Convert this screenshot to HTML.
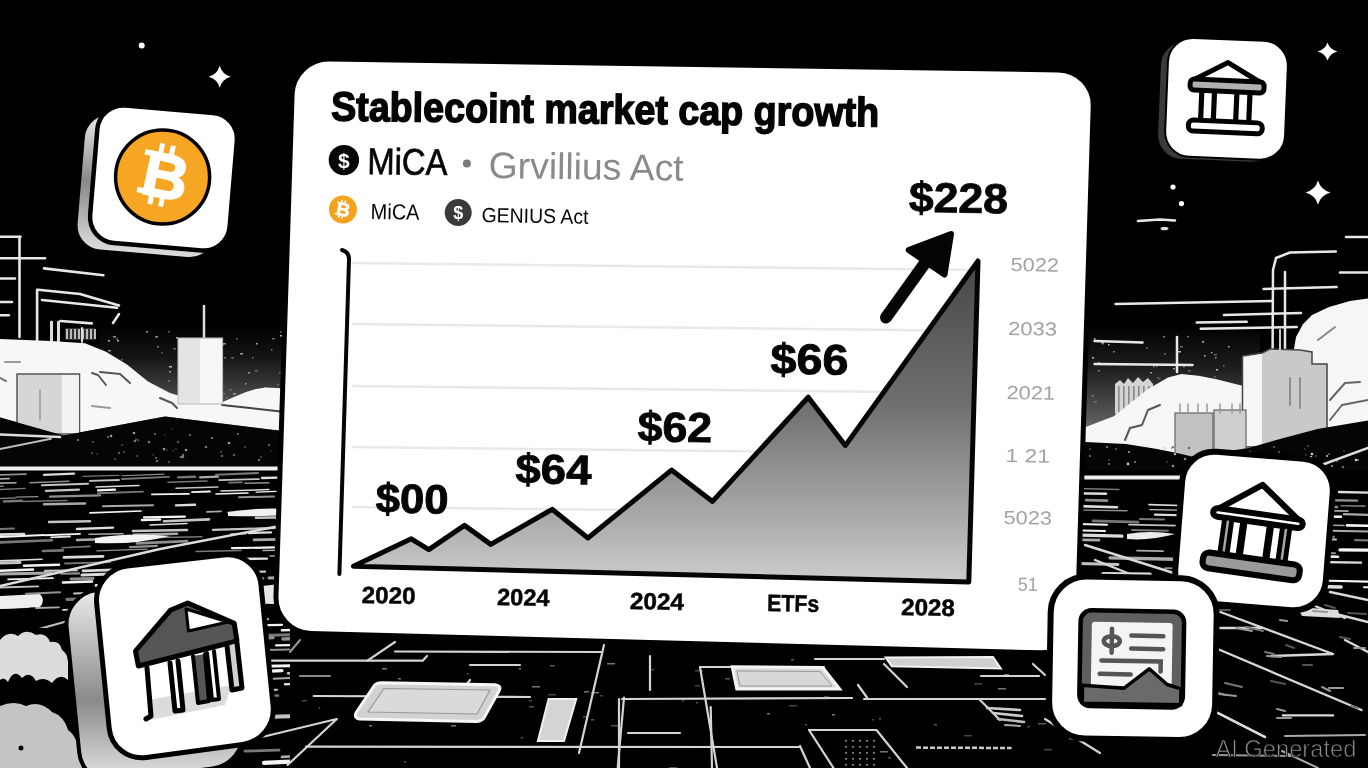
<!DOCTYPE html>
<html><head><meta charset="utf-8"><title>Stablecoin market cap growth</title>
<style>
html,body{margin:0;padding:0;background:#000;width:1368px;height:768px;overflow:hidden}
svg{display:block}
text{font-family:"Liberation Sans",Arial,sans-serif}
</style></head><body>
<svg width="1368" height="768" viewBox="0 0 1368 768">
<defs>
<linearGradient id="area" x1="0" y1="262" x2="0" y2="582" gradientUnits="userSpaceOnUse">
<stop offset="0" stop-color="#474747"/><stop offset="0.45" stop-color="#707070"/><stop offset="0.75" stop-color="#a2a2a2"/><stop offset="1" stop-color="#cdcdcd"/>
</linearGradient>
<linearGradient id="btcside" x1="0" y1="0" x2="0" y2="1">
<stop offset="0" stop-color="#eee"/><stop offset="0.5" stop-color="#888"/><stop offset="1" stop-color="#ddd"/>
</linearGradient>
<linearGradient id="bankside" x1="0" y1="0" x2="0" y2="1">
<stop offset="0" stop-color="#f4f4f4"/><stop offset="0.6" stop-color="#8a8a8a"/><stop offset="1" stop-color="#e6e6e6"/>
</linearGradient>
<clipPath id="clipLG"><rect x="0" y="471" width="290" height="297"/></clipPath>
<clipPath id="clipRG"><rect x="1070" y="468" width="298" height="300"/></clipPath>
<linearGradient id="skyR" x1="0" y1="0" x2="0" y2="1"><stop offset="0" stop-color="#000"/><stop offset="0.35" stop-color="#1e1e1e"/><stop offset="0.75" stop-color="#5a5a5a"/><stop offset="1" stop-color="#8a8a8a"/></linearGradient>
<linearGradient id="skyL" x1="0" y1="0" x2="0" y2="1"><stop offset="0" stop-color="#000"/><stop offset="0.3" stop-color="#141414"/><stop offset="0.7" stop-color="#4a4a4a"/><stop offset="1" stop-color="#7a7a7a"/></linearGradient>
</defs>
<rect width="1368" height="768" fill="#000"/>
<circle cx="141.7" cy="45.6" r="3" fill="#fff"/>
<path d="M219.7,65.8 Q222.11999999999998,74.38 230.7,76.8 Q222.11999999999998,79.22 219.7,87.8 Q217.28,79.22 208.7,76.8 Q217.28,74.38 219.7,65.8 Z" fill="#fff"/>
<path d="M1327.5,42.6 Q1329.7,49.620000000000005 1337.5,51.6 Q1329.7,53.58 1327.5,60.6 Q1325.3,53.58 1317.5,51.6 Q1325.3,49.620000000000005 1327.5,42.6 Z" fill="#fff"/>
<path d="M1318,180.6 Q1320.75,189.96 1330.5,192.6 Q1320.75,195.23999999999998 1318,204.6 Q1315.25,195.23999999999998 1305.5,192.6 Q1315.25,189.96 1318,180.6 Z" fill="#fff"/>
<circle cx="1173" cy="187" r="2.6" fill="#fff"/><circle cx="1181.5" cy="203.6" r="2.6" fill="#fff"/>
<path d="M1138,221 L1160,219.5 L1175,220.5" fill="none" stroke="#e8e8e8" stroke-width="2.5" stroke-linecap="round" stroke-linejoin="round"/>
<ellipse cx="1164.5" cy="228.5" rx="4" ry="1.8" fill="#ddd"/>
<path d="M100,325 L290,325 L290,430 L100,430 Z" fill="url(#skyL)"/>
<rect x="181" y="369" width="2" height="1.5" fill="#666"/>
<rect x="191" y="371" width="1.5" height="1.5" fill="#666"/>
<rect x="213" y="386" width="1.5" height="1.5" fill="#666"/>
<rect x="155" y="336" width="3" height="1.5" fill="#777"/>
<rect x="207" y="358" width="2" height="1.5" fill="#999"/>
<rect x="212" y="388" width="1.5" height="1.5" fill="#777"/>
<rect x="106" y="392" width="3" height="1.5" fill="#777"/>
<rect x="240" y="353" width="3" height="1.5" fill="#999"/>
<rect x="193" y="375" width="2" height="1.5" fill="#777"/>
<rect x="219" y="362" width="2" height="1.5" fill="#666"/>
<rect x="280" y="400" width="1.5" height="1.5" fill="#bbb"/>
<rect x="157" y="346" width="2" height="1.5" fill="#777"/>
<rect x="113" y="384" width="2" height="1.5" fill="#777"/>
<rect x="252" y="357" width="1.5" height="1.5" fill="#777"/>
<rect x="138" y="395" width="1.5" height="1.5" fill="#666"/>
<rect x="168" y="380" width="2" height="1.5" fill="#777"/>
<rect x="202" y="344" width="3" height="1.5" fill="#bbb"/>
<rect x="161" y="352" width="1.5" height="1.5" fill="#666"/>
<rect x="236" y="338" width="1.5" height="1.5" fill="#777"/>
<rect x="102" y="363" width="2" height="1.5" fill="#999"/>
<rect x="223" y="343" width="3" height="1.5" fill="#999"/>
<rect x="277" y="384" width="2" height="1.5" fill="#666"/>
<rect x="121" y="359" width="1.5" height="1.5" fill="#777"/>
<rect x="149" y="398" width="3" height="1.5" fill="#bbb"/>
<rect x="280" y="331" width="1.5" height="1.5" fill="#666"/>
<rect x="279" y="372" width="3" height="1.5" fill="#777"/>
<rect x="108" y="340" width="2" height="1.5" fill="#bbb"/>
<rect x="102" y="373" width="2" height="1.5" fill="#666"/>
<rect x="113" y="336" width="3" height="1.5" fill="#999"/>
<rect x="103" y="356" width="3" height="1.5" fill="#666"/>
<rect x="123" y="371" width="3" height="1.5" fill="#999"/>
<rect x="256" y="343" width="1.5" height="1.5" fill="#bbb"/>
<rect x="264" y="387" width="1.5" height="1.5" fill="#999"/>
<rect x="129" y="374" width="3" height="1.5" fill="#999"/>
<rect x="224" y="357" width="2" height="1.5" fill="#777"/>
<rect x="176" y="337" width="1.5" height="1.5" fill="#bbb"/>
<rect x="143" y="379" width="2" height="1.5" fill="#666"/>
<rect x="248" y="372" width="2" height="1.5" fill="#999"/>
<rect x="267" y="398" width="1.5" height="1.5" fill="#999"/>
<rect x="186" y="376" width="3" height="1.5" fill="#777"/>
<rect x="150" y="394" width="1.5" height="1.5" fill="#777"/>
<rect x="112" y="359" width="1.5" height="1.5" fill="#777"/>
<rect x="108" y="350" width="3" height="1.5" fill="#999"/>
<rect x="117" y="340" width="2" height="1.5" fill="#bbb"/>
<rect x="218" y="378" width="3" height="1.5" fill="#999"/>
<rect x="206" y="395" width="2" height="1.5" fill="#bbb"/>
<rect x="226" y="397" width="1.5" height="1.5" fill="#777"/>
<rect x="187" y="381" width="2" height="1.5" fill="#999"/>
<rect x="280" y="335" width="3" height="1.5" fill="#bbb"/>
<rect x="233" y="393" width="3" height="1.5" fill="#999"/>
<rect x="243" y="394" width="2" height="1.5" fill="#777"/>
<rect x="223" y="393" width="2" height="1.5" fill="#777"/>
<rect x="255" y="370" width="3" height="1.5" fill="#666"/>
<rect x="168" y="331" width="1.5" height="1.5" fill="#777"/>
<rect x="116" y="338" width="2" height="1.5" fill="#666"/>
<rect x="231" y="357" width="3" height="1.5" fill="#666"/>
<rect x="179" y="389" width="1.5" height="1.5" fill="#777"/>
<rect x="156" y="336" width="1.5" height="1.5" fill="#999"/>
<rect x="272" y="338" width="3" height="1.5" fill="#666"/>
<rect x="146" y="331" width="2" height="1.5" fill="#999"/>
<rect x="222" y="344" width="1.5" height="1.5" fill="#bbb"/>
<rect x="219" y="361" width="1.5" height="1.5" fill="#bbb"/>
<rect x="173" y="348" width="3" height="1.5" fill="#666"/>
<rect x="245" y="383" width="1.5" height="1.5" fill="#999"/>
<rect x="169" y="371" width="2" height="1.5" fill="#999"/>
<rect x="125" y="365" width="1.5" height="1.5" fill="#777"/>
<rect x="271" y="349" width="1.5" height="1.5" fill="#777"/>
<rect x="181" y="349" width="1.5" height="1.5" fill="#666"/>
<rect x="169" y="366" width="3" height="1.5" fill="#bbb"/>
<rect x="229" y="389" width="3" height="1.5" fill="#666"/>
<path d="M0,236.7 L20.5,236.7" fill="none" stroke="#e8e8e8" stroke-width="2.6" stroke-linecap="round" stroke-linejoin="round"/>
<path d="M19.5,236.7 L19.5,337" fill="none" stroke="#e8e8e8" stroke-width="2.6" stroke-linecap="round" stroke-linejoin="round"/>
<path d="M0,258.2 L45,258.2" fill="none" stroke="#e8e8e8" stroke-width="2.6" stroke-linecap="round" stroke-linejoin="round"/>
<path d="M44,268.4 L103.5,275.2" fill="none" stroke="#e8e8e8" stroke-width="2.6" stroke-linecap="round" stroke-linejoin="round"/>
<path d="M0,278.5 L15,278.5" fill="none" stroke="#e8e8e8" stroke-width="2.6" stroke-linecap="round" stroke-linejoin="round"/>
<path d="M37.1,289.8 L37.1,341" fill="none" stroke="#e8e8e8" stroke-width="2.6" stroke-linecap="round" stroke-linejoin="round"/>
<path d="M38,289.8 L80,294 L119,305.5" fill="none" stroke="#e8e8e8" stroke-width="2.6" stroke-linecap="round" stroke-linejoin="round"/>
<path d="M42,300 L117,307.8" fill="none" stroke="#e8e8e8" stroke-width="2.6" stroke-linecap="round" stroke-linejoin="round"/>
<path d="M0,302 L12,302" fill="none" stroke="#e8e8e8" stroke-width="2.6" stroke-linecap="round" stroke-linejoin="round"/>
<path d="M0,315.2 L8.8,315.2" fill="none" stroke="#e8e8e8" stroke-width="2.6" stroke-linecap="round" stroke-linejoin="round"/>
<path d="M60.5,321 L91.8,323.4" fill="none" stroke="#e8e8e8" stroke-width="2.6" stroke-linecap="round" stroke-linejoin="round"/>
<path d="M113,323 L119,314" fill="none" stroke="#e8e8e8" stroke-width="2.6" stroke-linecap="round" stroke-linejoin="round"/>
<g fill="#ccc"><rect x="65" y="328" width="30" height="12" fill="#333"/></g>
<rect x="66" y="329" width="2" height="10" fill="#bbb"/>
<rect x="70" y="329" width="2" height="10" fill="#bbb"/>
<rect x="74" y="329" width="2" height="10" fill="#bbb"/>
<rect x="78" y="329" width="2" height="10" fill="#bbb"/>
<rect x="82" y="329" width="2" height="10" fill="#bbb"/>
<rect x="86" y="329" width="2" height="10" fill="#bbb"/>
<rect x="90" y="329" width="2" height="10" fill="#bbb"/>
<rect x="94" y="329" width="2" height="10" fill="#bbb"/>
<path d="M51.5,322 L51.5,372" fill="none" stroke="#ddd" stroke-width="3" stroke-linecap="round" stroke-linejoin="round"/><path d="M58.5,322 L58.5,372" fill="none" stroke="#ddd" stroke-width="3" stroke-linecap="round" stroke-linejoin="round"/><path d="M82,328 L82,342" fill="none" stroke="#ddd" stroke-width="2" stroke-linecap="round" stroke-linejoin="round"/>
<path d="M0.0,339.0 L51.0,341.0 L85.0,343.3 L106.0,351.8 L127.0,364.5 L148.0,381.5 L170.0,393.0 L180.0,396.0 L222.6,402.0 L234.0,397.0 L246.0,392.0 L256.0,389.0 L266.0,387.5 L277.0,388.0 L290.0,389.0 L290.0,432.0 L165.0,416.5 L63.6,435.5 L0.0,417.5 Z" fill="#f7f7f7" />
<path d="M92,373 L98,375 L106,385" fill="none" stroke="#555" stroke-width="2" stroke-linecap="round" stroke-linejoin="round"/><path d="M100,372 L120,374 L130,383" fill="none" stroke="#555" stroke-width="2" stroke-linecap="round" stroke-linejoin="round"/><path d="M160,398 L172,403 L177,408" fill="none" stroke="#555" stroke-width="2" stroke-linecap="round" stroke-linejoin="round"/><path d="M222,405 L250,408 L285,412" fill="none" stroke="#444" stroke-width="2" stroke-linecap="round" stroke-linejoin="round"/><path d="M0,378 L6,381" fill="none" stroke="#777" stroke-width="2" stroke-linecap="round" stroke-linejoin="round"/><path d="M5,362 L20,362" fill="none" stroke="#999" stroke-width="2" stroke-linecap="round" stroke-linejoin="round"/><path d="M92,406 L110,408" fill="none" stroke="#999" stroke-width="2" stroke-linecap="round" stroke-linejoin="round"/>
<rect x="17" y="374" width="62.5" height="60" fill="#d6d6d6" stroke="#555" stroke-width="1.5"/>
<rect x="62" y="375" width="17" height="58" fill="#f2f2f2"/>
<path d="M40,390 L40,420" fill="none" stroke="#999" stroke-width="1.5" stroke-linecap="round" stroke-linejoin="round"/>
<path d="M204,306 L204,338" fill="none" stroke="#ddd" stroke-width="2.5" stroke-linecap="round" stroke-linejoin="round"/>
<rect x="178" y="338" width="44.6" height="66" fill="#e4e4e4" stroke="#bbb" stroke-width="1"/>
<rect x="200" y="339" width="22" height="64" fill="#f6f6f6"/>
<path d="M0.0,417.5 L63.6,435.5 L165.0,416.5 L290.0,432.0 L290.0,470.0 L0.0,470.0 Z" fill="#050505" />
<path d="M0,434.5 L60,437" fill="none" stroke="#ddd" stroke-width="2.5" stroke-linecap="round" stroke-linejoin="round"/><path d="M0,449 L51,438.7" fill="none" stroke="#bbb" stroke-width="2" stroke-linecap="round" stroke-linejoin="round"/>
<circle cx="137" cy="456" r="1" fill="#555"/>
<circle cx="212" cy="438" r="1" fill="#999"/>
<circle cx="206" cy="447" r="1.3" fill="#777"/>
<circle cx="155" cy="434" r="1" fill="#777"/>
<circle cx="234" cy="455" r="1.3" fill="#555"/>
<circle cx="164" cy="449" r="1.3" fill="#999"/>
<circle cx="271" cy="451" r="0.8" fill="#444"/>
<circle cx="124" cy="452" r="1" fill="#555"/>
<circle cx="108" cy="437" r="1" fill="#777"/>
<circle cx="153" cy="455" r="0.8" fill="#555"/>
<circle cx="156" cy="458" r="1" fill="#777"/>
<circle cx="165" cy="435" r="0.8" fill="#444"/>
<circle cx="186" cy="450" r="1.3" fill="#999"/>
<circle cx="167" cy="450" r="0.8" fill="#555"/>
<circle cx="222" cy="456" r="1.3" fill="#555"/>
<circle cx="115" cy="459" r="0.8" fill="#999"/>
<circle cx="183" cy="455" r="1" fill="#999"/>
<circle cx="261" cy="457" r="1" fill="#555"/>
<circle cx="78" cy="440" r="1" fill="#999"/>
<circle cx="172" cy="429" r="0.8" fill="#444"/>
<circle cx="238" cy="434" r="1" fill="#777"/>
<circle cx="169" cy="462" r="1.3" fill="#444"/>
<circle cx="269" cy="445" r="1.3" fill="#555"/>
<circle cx="229" cy="443" r="1.3" fill="#999"/>
<circle cx="245" cy="447" r="0.8" fill="#999"/>
<circle cx="135" cy="441" r="1.3" fill="#777"/>
<circle cx="134" cy="433" r="1.3" fill="#999"/>
<circle cx="190" cy="435" r="1.3" fill="#555"/>
<circle cx="176" cy="449" r="0.8" fill="#555"/>
<circle cx="178" cy="442" r="1.3" fill="#555"/>
<circle cx="173" cy="451" r="0.8" fill="#444"/>
<circle cx="157" cy="461" r="1" fill="#999"/>
<circle cx="122" cy="445" r="1" fill="#444"/>
<circle cx="259" cy="460" r="1" fill="#999"/>
<circle cx="93" cy="442" r="0.8" fill="#999"/>
<circle cx="97" cy="454" r="0.8" fill="#555"/>
<circle cx="111" cy="436" r="1.3" fill="#999"/>
<circle cx="138" cy="440" r="1.3" fill="#444"/>
<circle cx="92" cy="453" r="0.8" fill="#999"/>
<circle cx="221" cy="452" r="1" fill="#555"/>
<circle cx="149" cy="442" r="1.3" fill="#777"/>
<circle cx="183" cy="457" r="1.3" fill="#777"/>
<circle cx="181" cy="457" r="1.3" fill="#777"/>
<circle cx="119" cy="453" r="1" fill="#777"/>
<circle cx="136" cy="439" r="0.8" fill="#777"/>
<rect x="0" y="466.5" width="290" height="4" fill="#f0f0f0"/>
<g clip-path="url(#clipLG)">
<path d="M-7,475.2 l33,-1.1" stroke="#909090" stroke-width="1.7" stroke-linecap="round"/>
<path d="M44,474.9 l30,-1.2" stroke="#dcdcdc" stroke-width="2.3" stroke-linecap="round"/>
<path d="M83,476.3 l36,-1.0" stroke="#777" stroke-width="1.3" stroke-linecap="round"/>
<path d="M122,475.8 l42,-1.7" stroke="#909090" stroke-width="1.1" stroke-linecap="round"/>
<path d="M216,474.8 l42,-1.8" stroke="#777" stroke-width="2.1" stroke-linecap="round"/>
<path d="M280,475.5 l16,-0.6" stroke="#dcdcdc" stroke-width="1.4" stroke-linecap="round"/>
<path d="M-25,479.8 l34,-1.2" stroke="#aaa" stroke-width="1.8" stroke-linecap="round"/>
<path d="M122,479.0 l47,-2.1" stroke="#777" stroke-width="1.9" stroke-linecap="round"/>
<path d="M178,477.4 l17,-0.7" stroke="#777" stroke-width="2.4" stroke-linecap="round"/>
<path d="M200,477.3 l18,-0.6" stroke="#aaa" stroke-width="2.2" stroke-linecap="round"/>
<path d="M219,480.1 l40,-1.0" stroke="#c4c4c4" stroke-width="1.7" stroke-linecap="round"/>
<path d="M262,478.0 l35,-0.8" stroke="#dcdcdc" stroke-width="2.3" stroke-linecap="round"/>
<path d="M-10,483.4 l26,-0.7" stroke="#aaa" stroke-width="1.6" stroke-linecap="round"/>
<path d="M30,482.7 l39,-1.4" stroke="#909090" stroke-width="1.5" stroke-linecap="round"/>
<path d="M90,480.8 l29,-0.8" stroke="#c4c4c4" stroke-width="1.8" stroke-linecap="round"/>
<path d="M168,482.3 l39,-1.3" stroke="#777" stroke-width="1.5" stroke-linecap="round"/>
<path d="M229,482.6 l13,-0.3" stroke="#777" stroke-width="1.7" stroke-linecap="round"/>
<path d="M245,483.2 l24,-0.4" stroke="#909090" stroke-width="1.5" stroke-linecap="round"/>
<path d="M-20,486.6 l23,-0.4" stroke="#777" stroke-width="1.7" stroke-linecap="round"/>
<path d="M42,485.2 l46,-1.5" stroke="#c4c4c4" stroke-width="2.1" stroke-linecap="round"/>
<path d="M96,487.0 l43,-1.4" stroke="#dcdcdc" stroke-width="1.5" stroke-linecap="round"/>
<path d="M280,487.3 l37,-0.7" stroke="#909090" stroke-width="1.7" stroke-linecap="round"/>
<path d="M-26,490.5 l51,-2.1" stroke="#777" stroke-width="1.4" stroke-linecap="round"/>
<path d="M46,490.9 l33,-1.3" stroke="#c4c4c4" stroke-width="2.3" stroke-linecap="round"/>
<path d="M98,490.4 l17,-0.7" stroke="#f4f4f4" stroke-width="2.3" stroke-linecap="round"/>
<path d="M176,488.3 l42,-1.3" stroke="#c4c4c4" stroke-width="1.5" stroke-linecap="round"/>
<path d="M221,490.9 l48,-1.4" stroke="#dcdcdc" stroke-width="1.5" stroke-linecap="round"/>
<path d="M98,493.3 l45,-1.7" stroke="#777" stroke-width="1.9" stroke-linecap="round"/>
<path d="M152,494.4 l37,-0.6" stroke="#f4f4f4" stroke-width="1.8" stroke-linecap="round"/>
<path d="M192,492.2 l18,-0.7" stroke="#f4f4f4" stroke-width="1.8" stroke-linecap="round"/>
<path d="M216,494.0 l32,-1.0" stroke="#f4f4f4" stroke-width="1.6" stroke-linecap="round"/>
<path d="M256,492.1 l20,-0.7" stroke="#f4f4f4" stroke-width="1.3" stroke-linecap="round"/>
<path d="M286,494.4 l35,-0.9" stroke="#aaa" stroke-width="2.0" stroke-linecap="round"/>
<path d="M-13,498.8 l28,-0.8" stroke="#777" stroke-width="1.6" stroke-linecap="round"/>
<path d="M16,497.2 l22,-0.6" stroke="#909090" stroke-width="1.3" stroke-linecap="round"/>
<path d="M50,496.7 l50,-1.4" stroke="#909090" stroke-width="2.2" stroke-linecap="round"/>
<path d="M239,497.3 l35,-0.8" stroke="#909090" stroke-width="2.1" stroke-linecap="round"/>
<path d="M4,501.5 l18,-0.7" stroke="#777" stroke-width="2.5" stroke-linecap="round"/>
<path d="M23,501.4 l44,-0.8" stroke="#777" stroke-width="1.5" stroke-linecap="round"/>
<path d="M44,504.2 l41,-0.7" stroke="#aaa" stroke-width="2.4" stroke-linecap="round"/>
<path d="M103,506.3 l50,-1.0" stroke="#aaa" stroke-width="2.0" stroke-linecap="round"/>
<path d="M176,505.4 l19,-0.7" stroke="#dcdcdc" stroke-width="2.4" stroke-linecap="round"/>
<path d="M90,512.9 l51,-1.9" stroke="#f4f4f4" stroke-width="1.7" stroke-linecap="round"/>
<path d="M207,511.9 l14,-0.5" stroke="#aaa" stroke-width="1.7" stroke-linecap="round"/>
<path d="M228,512.5 l34,-1.2" stroke="#c4c4c4" stroke-width="1.4" stroke-linecap="round"/>
<path d="M144,517.3 l41,-0.7" stroke="#f4f4f4" stroke-width="2.2" stroke-linecap="round"/>
<path d="M256,517.8 l44,-0.8" stroke="#c4c4c4" stroke-width="2.5" stroke-linecap="round"/>
<path d="M49,522.0 l41,-0.7" stroke="#c4c4c4" stroke-width="2.4" stroke-linecap="round"/>
<path d="M142,520.0 l18,-0.5" stroke="#f4f4f4" stroke-width="2.5" stroke-linecap="round"/>
<path d="M164,521.2 l45,-1.8" stroke="#c4c4c4" stroke-width="2.6" stroke-linecap="round"/>
<path d="M150,524.9 l37,-1.4" stroke="#dcdcdc" stroke-width="1.5" stroke-linecap="round"/>
<path d="M-29,530.1 l43,-1.6" stroke="#777" stroke-width="2.0" stroke-linecap="round"/>
<path d="M77,529.0 l36,-1.4" stroke="#dcdcdc" stroke-width="2.4" stroke-linecap="round"/>
<path d="M133,531.0 l54,-1.0" stroke="#c4c4c4" stroke-width="2.7" stroke-linecap="round"/>
<path d="M213,529.9 l40,-1.2" stroke="#c4c4c4" stroke-width="2.2" stroke-linecap="round"/>
<path d="M255,528.7 l29,-1.2" stroke="#c4c4c4" stroke-width="2.3" stroke-linecap="round"/>
<path d="M-21,535.3 l45,-1.3" stroke="#dcdcdc" stroke-width="2.7" stroke-linecap="round"/>
<path d="M45,535.2 l35,-1.3" stroke="#f4f4f4" stroke-width="1.9" stroke-linecap="round"/>
<path d="M89,534.2 l34,-0.5" stroke="#aaa" stroke-width="1.6" stroke-linecap="round"/>
<path d="M134,534.9 l43,-1.1" stroke="#aaa" stroke-width="2.6" stroke-linecap="round"/>
<path d="M231,534.1 l15,-0.3" stroke="#c4c4c4" stroke-width="1.5" stroke-linecap="round"/>
<path d="M249,533.1 l22,-0.7" stroke="#dcdcdc" stroke-width="2.2" stroke-linecap="round"/>
<path d="M-1,537.0 l45,-2.0" stroke="#f4f4f4" stroke-width="1.9" stroke-linecap="round"/>
<path d="M51,537.3 l19,-0.8" stroke="#dcdcdc" stroke-width="1.8" stroke-linecap="round"/>
<path d="M77,539.9 l49,-1.4" stroke="#aaa" stroke-width="2.5" stroke-linecap="round"/>
<path d="M143,537.1 l16,-0.5" stroke="#c4c4c4" stroke-width="1.8" stroke-linecap="round"/>
<path d="M161,537.5 l41,-0.7" stroke="#777" stroke-width="1.4" stroke-linecap="round"/>
<path d="M254,539.8 l56,-0.9" stroke="#aaa" stroke-width="2.7" stroke-linecap="round"/>
<path d="M-28,542.5 l19,-0.5" stroke="#aaa" stroke-width="1.5" stroke-linecap="round"/>
<path d="M-2,542.5 l54,-2.3" stroke="#777" stroke-width="2.6" stroke-linecap="round"/>
<path d="M137,543.4 l50,-2.2" stroke="#909090" stroke-width="2.7" stroke-linecap="round"/>
<path d="M-18,548.6 l17,-0.3" stroke="#777" stroke-width="2.3" stroke-linecap="round"/>
<path d="M62,547.7 l28,-1.3" stroke="#777" stroke-width="1.6" stroke-linecap="round"/>
<path d="M130,547.1 l27,-1.2" stroke="#909090" stroke-width="2.1" stroke-linecap="round"/>
<path d="M232,548.2 l42,-0.8" stroke="#f4f4f4" stroke-width="2.2" stroke-linecap="round"/>
<path d="M43,551.0 l20,-0.7" stroke="#777" stroke-width="2.7" stroke-linecap="round"/>
<path d="M97,550.9 l50,-1.7" stroke="#909090" stroke-width="1.3" stroke-linecap="round"/>
<path d="M196,551.5 l45,-1.0" stroke="#777" stroke-width="1.4" stroke-linecap="round"/>
<path d="M263,550.6 l18,-0.4" stroke="#aaa" stroke-width="1.5" stroke-linecap="round"/>
<path d="M64,557.4 l39,-1.1" stroke="#dcdcdc" stroke-width="2.8" stroke-linecap="round"/>
<path d="M270,556.0 l48,-1.0" stroke="#aaa" stroke-width="1.4" stroke-linecap="round"/>
<path d="M-13,561.3 l55,-2.0" stroke="#dcdcdc" stroke-width="1.6" stroke-linecap="round"/>
<path d="M147,562.0 l23,-0.5" stroke="#aaa" stroke-width="2.1" stroke-linecap="round"/>
<path d="M183,561.4 l28,-0.7" stroke="#c4c4c4" stroke-width="2.8" stroke-linecap="round"/>
<path d="M216,559.4 l51,-0.8" stroke="#dcdcdc" stroke-width="2.4" stroke-linecap="round"/>
<path d="M-30,563.5 l50,-1.0" stroke="#c4c4c4" stroke-width="3.0" stroke-linecap="round"/>
<path d="M24,565.8 l35,-1.0" stroke="#f4f4f4" stroke-width="2.4" stroke-linecap="round"/>
<path d="M65,563.5 l45,-1.3" stroke="#777" stroke-width="1.8" stroke-linecap="round"/>
<path d="M196,565.9 l27,-0.8" stroke="#aaa" stroke-width="2.2" stroke-linecap="round"/>
<path d="M228,565.8 l23,-0.7" stroke="#777" stroke-width="1.5" stroke-linecap="round"/>
<path d="M-11,571.0 l44,-1.4" stroke="#f4f4f4" stroke-width="2.5" stroke-linecap="round"/>
<path d="M45,570.9 l32,-0.6" stroke="#c4c4c4" stroke-width="2.1" stroke-linecap="round"/>
<path d="M83,570.9 l39,-1.3" stroke="#dcdcdc" stroke-width="2.7" stroke-linecap="round"/>
<path d="M-6,574.0 l57,-0.9" stroke="#aaa" stroke-width="3.0" stroke-linecap="round"/>
<path d="M61,573.7 l18,-0.3" stroke="#909090" stroke-width="2.1" stroke-linecap="round"/>
<path d="M82,575.1 l59,-2.1" stroke="#dcdcdc" stroke-width="3.0" stroke-linecap="round"/>
<path d="M148,575.8 l44,-1.6" stroke="#f4f4f4" stroke-width="3.0" stroke-linecap="round"/>
<path d="M205,573.0 l60,-1.3" stroke="#c4c4c4" stroke-width="2.3" stroke-linecap="round"/>
<path d="M8,579.3 l45,-1.1" stroke="#f4f4f4" stroke-width="1.7" stroke-linecap="round"/>
<path d="M71,579.0 l22,-0.6" stroke="#909090" stroke-width="3.0" stroke-linecap="round"/>
<path d="M137,580.3 l22,-0.7" stroke="#dcdcdc" stroke-width="2.1" stroke-linecap="round"/>
<path d="M172,578.2 l17,-0.4" stroke="#dcdcdc" stroke-width="3.1" stroke-linecap="round"/>
<path d="M245,578.8 l18,-0.5" stroke="#777" stroke-width="2.8" stroke-linecap="round"/>
<path d="M269,578.0 l30,-1.0" stroke="#aaa" stroke-width="2.8" stroke-linecap="round"/>
<path d="M63,582.6 l29,-1.0" stroke="#f4f4f4" stroke-width="2.5" stroke-linecap="round"/>
<path d="M96,585.4 l42,-1.5" stroke="#f4f4f4" stroke-width="2.8" stroke-linecap="round"/>
<path d="M152,583.4 l51,-1.7" stroke="#909090" stroke-width="2.4" stroke-linecap="round"/>
<path d="M-10,587.8 l48,-1.4" stroke="#c4c4c4" stroke-width="1.9" stroke-linecap="round"/>
<path d="M98,589.8 l60,-1.2" stroke="#aaa" stroke-width="2.0" stroke-linecap="round"/>
<path d="M275,590.4 l30,-0.8" stroke="#aaa" stroke-width="2.1" stroke-linecap="round"/>
<path d="M26,593.7 l34,-1.4" stroke="#909090" stroke-width="2.1" stroke-linecap="round"/>
<path d="M74,593.5 l22,-0.7" stroke="#c4c4c4" stroke-width="1.9" stroke-linecap="round"/>
<path d="M99,592.5 l21,-0.8" stroke="#c4c4c4" stroke-width="1.8" stroke-linecap="round"/>
<path d="M125,595.1 l37,-1.1" stroke="#777" stroke-width="2.9" stroke-linecap="round"/>
<path d="M289,593.9 l21,-0.9" stroke="#c4c4c4" stroke-width="2.1" stroke-linecap="round"/>
<path d="M67,599.3 l31,-0.5" stroke="#777" stroke-width="3.2" stroke-linecap="round"/>
<path d="M163,597.5 l18,-0.6" stroke="#aaa" stroke-width="2.6" stroke-linecap="round"/>
<path d="M188,598.4 l57,-1.0" stroke="#c4c4c4" stroke-width="1.8" stroke-linecap="round"/>
<path d="M-3,603.3 l28,-0.8" stroke="#909090" stroke-width="2.2" stroke-linecap="round"/>
<path d="M133,604.5 l41,-0.9" stroke="#909090" stroke-width="3.0" stroke-linecap="round"/>
<path d="M177,604.8 l37,-0.8" stroke="#dcdcdc" stroke-width="2.4" stroke-linecap="round"/>
<path d="M270,603.0 l56,-2.3" stroke="#f4f4f4" stroke-width="2.1" stroke-linecap="round"/>
<path d="M-7,608.3 l35,-1.2" stroke="#c4c4c4" stroke-width="2.0" stroke-linecap="round"/>
<path d="M36,608.0 l23,-0.7" stroke="#aaa" stroke-width="1.8" stroke-linecap="round"/>
<path d="M63,609.8 l55,-1.5" stroke="#dcdcdc" stroke-width="1.8" stroke-linecap="round"/>
<path d="M279,614.6 l28,-1.0" stroke="#909090" stroke-width="2.6" stroke-linecap="round"/>
<path d="M139,620.1 l38,-1.2" stroke="#dcdcdc" stroke-width="2.0" stroke-linecap="round"/>
<path d="M216,620.7 l52,-1.6" stroke="#aaa" stroke-width="2.4" stroke-linecap="round"/>
<path d="M97,624.5 l29,-0.8" stroke="#dcdcdc" stroke-width="3.3" stroke-linecap="round"/>
<path d="M132,625.9 l64,-2.2" stroke="#909090" stroke-width="3.0" stroke-linecap="round"/>
<path d="M208,623.4 l31,-1.1" stroke="#c4c4c4" stroke-width="3.2" stroke-linecap="round"/>
<path d="M253,625.4 l29,-0.6" stroke="#f4f4f4" stroke-width="2.2" stroke-linecap="round"/>
<path d="M93,631.0 l57,-1.1" stroke="#909090" stroke-width="2.1" stroke-linecap="round"/>
<path d="M153,631.1 l39,-1.6" stroke="#dcdcdc" stroke-width="2.5" stroke-linecap="round"/>
<path d="M210,631.1 l36,-0.9" stroke="#909090" stroke-width="2.6" stroke-linecap="round"/>
<path d="M282,630.3 l39,-1.3" stroke="#f4f4f4" stroke-width="2.6" stroke-linecap="round"/>
<path d="M-19,635.3 l61,-1.9" stroke="#f4f4f4" stroke-width="2.9" stroke-linecap="round"/>
<path d="M158,634.9 l51,-1.3" stroke="#f4f4f4" stroke-width="1.7" stroke-linecap="round"/>
<path d="M269,635.3 l57,-1.6" stroke="#777" stroke-width="3.0" stroke-linecap="round"/>
<path d="M-6,640.2 l27,-0.8" stroke="#aaa" stroke-width="2.2" stroke-linecap="round"/>
<path d="M31,639.2 l33,-0.9" stroke="#f4f4f4" stroke-width="2.7" stroke-linecap="round"/>
<path d="M138,639.4 l62,-1.0" stroke="#909090" stroke-width="2.4" stroke-linecap="round"/>
<path d="M230,638.9 l43,-1.3" stroke="#909090" stroke-width="3.4" stroke-linecap="round"/>
<path d="M283,638.9 l44,-1.3" stroke="#909090" stroke-width="3.5" stroke-linecap="round"/>
<path d="M-28,644.0 l39,-1.2" stroke="#aaa" stroke-width="2.8" stroke-linecap="round"/>
<path d="M24,645.2 l20,-0.5" stroke="#c4c4c4" stroke-width="2.2" stroke-linecap="round"/>
<path d="M77,644.1 l66,-2.5" stroke="#777" stroke-width="2.0" stroke-linecap="round"/>
<path d="M276,645.3 l66,-1.2" stroke="#f4f4f4" stroke-width="2.3" stroke-linecap="round"/>
<path d="M-23,650.7 l41,-1.4" stroke="#f4f4f4" stroke-width="2.3" stroke-linecap="round"/>
<path d="M37,651.5 l56,-2.4" stroke="#f4f4f4" stroke-width="2.9" stroke-linecap="round"/>
<path d="M110,652.3 l30,-0.5" stroke="#f4f4f4" stroke-width="2.9" stroke-linecap="round"/>
<path d="M148,650.8 l38,-0.9" stroke="#777" stroke-width="2.0" stroke-linecap="round"/>
<path d="M207,650.4 l47,-1.9" stroke="#aaa" stroke-width="3.2" stroke-linecap="round"/>
<path d="M267,650.0 l63,-1.3" stroke="#909090" stroke-width="2.1" stroke-linecap="round"/>
<path d="M61,655.5 l30,-0.5" stroke="#777" stroke-width="2.8" stroke-linecap="round"/>
<path d="M160,655.4 l60,-2.0" stroke="#909090" stroke-width="3.4" stroke-linecap="round"/>
<path d="M35,660.8 l36,-1.6" stroke="#f4f4f4" stroke-width="2.2" stroke-linecap="round"/>
<path d="M192,663.2 l64,-1.4" stroke="#c4c4c4" stroke-width="3.2" stroke-linecap="round"/>
<path d="M47,669.0 l38,-1.6" stroke="#c4c4c4" stroke-width="3.7" stroke-linecap="round"/>
<path d="M97,667.4 l26,-0.9" stroke="#f4f4f4" stroke-width="2.8" stroke-linecap="round"/>
<path d="M191,667.5 l38,-1.0" stroke="#aaa" stroke-width="3.5" stroke-linecap="round"/>
<path d="M244,666.6 l50,-1.0" stroke="#f4f4f4" stroke-width="2.9" stroke-linecap="round"/>
<path d="M58,674.5 l22,-0.6" stroke="#777" stroke-width="2.6" stroke-linecap="round"/>
<path d="M181,675.0 l39,-1.0" stroke="#c4c4c4" stroke-width="3.2" stroke-linecap="round"/>
<path d="M235,672.7 l47,-2.1" stroke="#f4f4f4" stroke-width="3.2" stroke-linecap="round"/>
<path d="M288,673.3 l64,-1.0" stroke="#c4c4c4" stroke-width="2.4" stroke-linecap="round"/>
<path d="M124,680.6 l45,-1.4" stroke="#aaa" stroke-width="3.1" stroke-linecap="round"/>
<path d="M174,678.3 l66,-1.1" stroke="#f4f4f4" stroke-width="2.2" stroke-linecap="round"/>
<path d="M255,679.5 l61,-2.6" stroke="#aaa" stroke-width="1.8" stroke-linecap="round"/>
<path d="M53,684.2 l22,-0.8" stroke="#909090" stroke-width="3.1" stroke-linecap="round"/>
<path d="M81,686.1 l57,-1.1" stroke="#909090" stroke-width="2.9" stroke-linecap="round"/>
<path d="M238,685.3 l33,-1.0" stroke="#c4c4c4" stroke-width="2.7" stroke-linecap="round"/>
<path d="M285,684.3 l37,-1.6" stroke="#dcdcdc" stroke-width="2.4" stroke-linecap="round"/>
<path d="M-12,692.1 l70,-1.1" stroke="#dcdcdc" stroke-width="3.7" stroke-linecap="round"/>
<path d="M90,692.2 l44,-1.5" stroke="#777" stroke-width="2.7" stroke-linecap="round"/>
<path d="M213,692.3 l64,-2.5" stroke="#c4c4c4" stroke-width="2.0" stroke-linecap="round"/>
<path d="M98,698.2 l68,-1.5" stroke="#dcdcdc" stroke-width="3.8" stroke-linecap="round"/>
<path d="M195,698.3 l28,-0.4" stroke="#dcdcdc" stroke-width="3.5" stroke-linecap="round"/>
<path d="M231,697.2 l47,-1.6" stroke="#777" stroke-width="2.5" stroke-linecap="round"/>
<path d="M-26,702.6 l49,-2.0" stroke="#f4f4f4" stroke-width="2.3" stroke-linecap="round"/>
<path d="M27,702.8 l64,-2.6" stroke="#aaa" stroke-width="2.2" stroke-linecap="round"/>
<path d="M194,703.5 l73,-2.8" stroke="#c4c4c4" stroke-width="3.0" stroke-linecap="round"/>
<path d="M-14,710.5 l43,-1.9" stroke="#777" stroke-width="3.4" stroke-linecap="round"/>
<path d="M38,711.0 l38,-1.0" stroke="#dcdcdc" stroke-width="3.9" stroke-linecap="round"/>
<path d="M189,709.9 l71,-1.1" stroke="#777" stroke-width="2.6" stroke-linecap="round"/>
<path d="M-11,718.1 l59,-0.9" stroke="#dcdcdc" stroke-width="2.4" stroke-linecap="round"/>
<path d="M71,718.4 l48,-1.8" stroke="#909090" stroke-width="3.8" stroke-linecap="round"/>
<path d="M237,717.7 l62,-1.7" stroke="#c4c4c4" stroke-width="4.0" stroke-linecap="round"/>
<path d="M88,723.2 l42,-1.3" stroke="#777" stroke-width="3.4" stroke-linecap="round"/>
<path d="M-17,737.8 l69,-1.7" stroke="#909090" stroke-width="3.2" stroke-linecap="round"/>
<path d="M69,736.4 l63,-2.4" stroke="#dcdcdc" stroke-width="3.8" stroke-linecap="round"/>
<path d="M148,737.3 l51,-0.9" stroke="#909090" stroke-width="3.7" stroke-linecap="round"/>
<path d="M-9,742.0 l68,-3.0" stroke="#909090" stroke-width="2.9" stroke-linecap="round"/>
<path d="M-30,750.4 l77,-1.4" stroke="#dcdcdc" stroke-width="3.4" stroke-linecap="round"/>
<path d="M66,749.8 l53,-2.2" stroke="#aaa" stroke-width="4.2" stroke-linecap="round"/>
<path d="M190,750.6 l36,-1.3" stroke="#777" stroke-width="2.1" stroke-linecap="round"/>
<path d="M245,751.1 l34,-1.0" stroke="#777" stroke-width="2.8" stroke-linecap="round"/>
<path d="M106,757.6 l44,-1.2" stroke="#dcdcdc" stroke-width="2.4" stroke-linecap="round"/>
<path d="M171,757.4 l37,-1.5" stroke="#dcdcdc" stroke-width="4.0" stroke-linecap="round"/>
<path d="M282,756.9 l29,-1.2" stroke="#aaa" stroke-width="2.6" stroke-linecap="round"/>
<path d="M264,762.8 l72,-3.2" stroke="#f4f4f4" stroke-width="4.2" stroke-linecap="round"/>
<path d="M95,538 Q130,532 170,536 Q135,545 95,543 Z" fill="#f4f4f4"/>
<path d="M228,512 Q260,507 290,509 L290,515 Q255,517 228,516 Z" fill="#f0f0f0"/>
<path d="M0,676 Q30,670 48,673 Q30,682 0,684 Z" fill="#e8e8e8"/>
<path d="M0,596 L40,594 Q46,600 40,607 L0,609 Z" fill="#eee"/>
<path d="M262,586 L280,584 L280,603 L264,604 Z" fill="#e6e6e6"/>
<path d="M0,586 L160,549 L290,524" fill="none" stroke="#ddd" stroke-width="2.5" stroke-linecap="round" stroke-linejoin="round"/><path d="M0,640 L100,612 L230,578" fill="none" stroke="#bbb" stroke-width="2.2" stroke-linecap="round" stroke-linejoin="round"/>
</g>
<path d="M1083,325 L1260,325 L1260,450 L1083,450 Z" fill="url(#skyR)"/>
<rect x="1211" y="352" width="1.5" height="1.5" fill="#999"/>
<rect x="1228" y="346" width="1.5" height="1.5" fill="#bbb"/>
<rect x="1150" y="372" width="2" height="1.5" fill="#999"/>
<rect x="1121" y="388" width="1.5" height="1.5" fill="#777"/>
<rect x="1121" y="393" width="2" height="1.5" fill="#777"/>
<rect x="1199" y="389" width="2" height="1.5" fill="#999"/>
<rect x="1214" y="376" width="1.5" height="1.5" fill="#777"/>
<rect x="1208" y="387" width="3" height="1.5" fill="#666"/>
<rect x="1113" y="351" width="1.5" height="1.5" fill="#999"/>
<rect x="1220" y="419" width="3" height="1.5" fill="#777"/>
<rect x="1180" y="346" width="3" height="1.5" fill="#666"/>
<rect x="1102" y="343" width="2" height="1.5" fill="#666"/>
<rect x="1156" y="365" width="1.5" height="1.5" fill="#bbb"/>
<rect x="1092" y="395" width="1.5" height="1.5" fill="#999"/>
<rect x="1153" y="366" width="2" height="1.5" fill="#666"/>
<rect x="1233" y="386" width="1.5" height="1.5" fill="#777"/>
<rect x="1140" y="342" width="3" height="1.5" fill="#666"/>
<rect x="1178" y="351" width="3" height="1.5" fill="#bbb"/>
<rect x="1215" y="357" width="1.5" height="1.5" fill="#999"/>
<rect x="1216" y="369" width="2" height="1.5" fill="#bbb"/>
<rect x="1209" y="400" width="2" height="1.5" fill="#999"/>
<rect x="1202" y="341" width="2" height="1.5" fill="#bbb"/>
<rect x="1163" y="336" width="2" height="1.5" fill="#777"/>
<rect x="1126" y="415" width="3" height="1.5" fill="#bbb"/>
<rect x="1142" y="391" width="3" height="1.5" fill="#999"/>
<rect x="1173" y="368" width="2" height="1.5" fill="#999"/>
<rect x="1199" y="400" width="3" height="1.5" fill="#777"/>
<rect x="1108" y="344" width="1.5" height="1.5" fill="#bbb"/>
<rect x="1159" y="378" width="1.5" height="1.5" fill="#666"/>
<rect x="1092" y="357" width="2" height="1.5" fill="#bbb"/>
<rect x="1175" y="378" width="3" height="1.5" fill="#777"/>
<rect x="1189" y="404" width="1.5" height="1.5" fill="#777"/>
<rect x="1150" y="415" width="2" height="1.5" fill="#666"/>
<rect x="1240" y="408" width="3" height="1.5" fill="#777"/>
<rect x="1157" y="377" width="2" height="1.5" fill="#666"/>
<rect x="1183" y="366" width="2" height="1.5" fill="#666"/>
<rect x="1192" y="383" width="2" height="1.5" fill="#bbb"/>
<rect x="1094" y="401" width="3" height="1.5" fill="#777"/>
<rect x="1188" y="370" width="3" height="1.5" fill="#666"/>
<rect x="1098" y="362" width="2" height="1.5" fill="#777"/>
<rect x="1180" y="396" width="2" height="1.5" fill="#777"/>
<rect x="1214" y="354" width="3" height="1.5" fill="#666"/>
<rect x="1129" y="399" width="1.5" height="1.5" fill="#777"/>
<rect x="1235" y="396" width="2" height="1.5" fill="#999"/>
<rect x="1242" y="404" width="3" height="1.5" fill="#777"/>
<rect x="1098" y="370" width="1.5" height="1.5" fill="#999"/>
<rect x="1223" y="365" width="1.5" height="1.5" fill="#777"/>
<rect x="1146" y="347" width="2" height="1.5" fill="#666"/>
<rect x="1183" y="389" width="3" height="1.5" fill="#666"/>
<rect x="1146" y="398" width="1.5" height="1.5" fill="#bbb"/>
<rect x="1204" y="355" width="1.5" height="1.5" fill="#bbb"/>
<rect x="1212" y="388" width="2" height="1.5" fill="#bbb"/>
<rect x="1132" y="393" width="3" height="1.5" fill="#999"/>
<rect x="1188" y="399" width="1.5" height="1.5" fill="#999"/>
<rect x="1168" y="390" width="1.5" height="1.5" fill="#777"/>
<rect x="1187" y="336" width="2" height="1.5" fill="#666"/>
<rect x="1094" y="338" width="1.5" height="1.5" fill="#bbb"/>
<rect x="1101" y="342" width="3" height="1.5" fill="#999"/>
<rect x="1175" y="389" width="2" height="1.5" fill="#666"/>
<rect x="1164" y="353" width="2" height="1.5" fill="#666"/>
<path d="M1115.5,304 L1272,301" fill="none" stroke="#e8e8e8" stroke-width="2.5" stroke-linecap="round" stroke-linejoin="round"/>
<path d="M1272.6,350 L1273,270 L1276,258 L1290,252.5 L1335.8,251.6" fill="none" stroke="#e8e8e8" stroke-width="2.5" stroke-linecap="round" stroke-linejoin="round"/>
<path d="M1285,272 L1285,350" fill="none" stroke="#e8e8e8" stroke-width="2.5" stroke-linecap="round" stroke-linejoin="round"/>
<path d="M1263.6,289 L1336.7,287" fill="none" stroke="#e8e8e8" stroke-width="2.5" stroke-linecap="round" stroke-linejoin="round"/>
<path d="M1224,315 L1301,313" fill="none" stroke="#e8e8e8" stroke-width="2.5" stroke-linecap="round" stroke-linejoin="round"/>
<path d="M1196.7,322.5 L1246.7,321.7" fill="none" stroke="#e8e8e8" stroke-width="2.5" stroke-linecap="round" stroke-linejoin="round"/>
<path d="M1200.8,328.7 L1296.7,327" fill="none" stroke="#e8e8e8" stroke-width="2.5" stroke-linecap="round" stroke-linejoin="round"/>
<path d="M1346,237 L1368,237" fill="none" stroke="#e8e8e8" stroke-width="2.5" stroke-linecap="round" stroke-linejoin="round"/>
<path d="M1340,272.5 L1368,272.5" fill="none" stroke="#e8e8e8" stroke-width="2.5" stroke-linecap="round" stroke-linejoin="round"/>
<path d="M1094.6,341 L1142.5,342.5" fill="none" stroke="#e8e8e8" stroke-width="2.5" stroke-linecap="round" stroke-linejoin="round"/>
<path d="M1094.6,364 L1192.5,365" fill="none" stroke="#e8e8e8" stroke-width="2.5" stroke-linecap="round" stroke-linejoin="round"/>
<path d="M1177,337 L1177,372" fill="none" stroke="#e8e8e8" stroke-width="2.5" stroke-linecap="round" stroke-linejoin="round"/>
<path d="M1115,414 L1115,384 L1120,380 L1124,384 L1128,378 L1133,383 L1138,377 L1143,382 L1148,378 L1153,384 L1153,414 Z" fill="#d4d4d4"/>
<rect x="1118" y="386" width="1.6" height="27" fill="#888"/>
<rect x="1123" y="386" width="1.6" height="27" fill="#888"/>
<rect x="1128" y="386" width="1.6" height="27" fill="#888"/>
<rect x="1133" y="386" width="1.6" height="27" fill="#888"/>
<rect x="1138" y="386" width="1.6" height="27" fill="#888"/>
<rect x="1143" y="386" width="1.6" height="27" fill="#888"/>
<rect x="1148" y="386" width="1.6" height="27" fill="#888"/>
<path d="M1083.0,428.0 L1113.8,416.3 L1147.7,389.2 L1168.0,377.4 L1181.5,374.0 L1198.4,375.7 L1215.4,379.0 L1242.4,385.8 L1294.0,385.0 L1294.0,349.0 L1296.0,337.0 L1303.0,324.0 L1312.0,315.0 L1329.0,307.0 L1350.0,301.0 L1368.0,298.5 L1368.0,425.0 L1317.0,432.0 L1269.5,445.0 L1191.7,457.0 L1147.7,453.5 L1083.0,441.6 Z" fill="#f6f6f6" />
<path d="M1125,440 L1130,428 L1142,425 L1148,410 L1160,405" fill="none" stroke="#555" stroke-width="2" stroke-linecap="round" stroke-linejoin="round"/><path d="M1318,340 L1335,327" fill="none" stroke="#888" stroke-width="2" stroke-linecap="round" stroke-linejoin="round"/><path d="M1330,400 L1345,383 L1360,382" fill="none" stroke="#666" stroke-width="2" stroke-linecap="round" stroke-linejoin="round"/><path d="M1330,420 L1342,405 L1368,400" fill="none" stroke="#666" stroke-width="2" stroke-linecap="round" stroke-linejoin="round"/>
<path d="M1242.5,356 L1242.5,447 L1327,447 L1327,364 L1312,364 L1312,352 L1300,350 L1270,349 L1262,353 Z" fill="#c9c9c9" stroke="#444" stroke-width="1.5"/>
<path d="M1243.5,357 L1262,354 L1262,446 L1243.5,446 Z" fill="#f6f6f6"/>
<path d="M1290,378 L1290,405" fill="none" stroke="#888" stroke-width="1.8" stroke-linecap="round" stroke-linejoin="round"/><path d="M1300,378 L1300,408" fill="none" stroke="#888" stroke-width="1.8" stroke-linecap="round" stroke-linejoin="round"/>
<path d="M1280,330 L1280,350" fill="none" stroke="#ccc" stroke-width="2" stroke-linecap="round" stroke-linejoin="round"/>
<rect x="1175" y="413" width="38" height="45" fill="#c2c2c2" stroke="#666" stroke-width="1.2"/><rect x="1214" y="410" width="32" height="46" fill="#cfcfcf" stroke="#666" stroke-width="1.2"/>
<path d="M1180,404 L1180,413" fill="none" stroke="#999" stroke-width="1.5" stroke-linecap="round" stroke-linejoin="round"/>
<path d="M1188,404 L1188,413" fill="none" stroke="#999" stroke-width="1.5" stroke-linecap="round" stroke-linejoin="round"/>
<path d="M1198,404 L1198,413" fill="none" stroke="#999" stroke-width="1.5" stroke-linecap="round" stroke-linejoin="round"/>
<path d="M1207,404 L1207,413" fill="none" stroke="#999" stroke-width="1.5" stroke-linecap="round" stroke-linejoin="round"/>
<path d="M1220,404 L1220,413" fill="none" stroke="#999" stroke-width="1.5" stroke-linecap="round" stroke-linejoin="round"/>
<path d="M1232,404 L1232,413" fill="none" stroke="#999" stroke-width="1.5" stroke-linecap="round" stroke-linejoin="round"/>
<path d="M1240,404 L1240,413" fill="none" stroke="#999" stroke-width="1.5" stroke-linecap="round" stroke-linejoin="round"/>
<path d="M1075.0,441.5 L1126.0,444.0 L1157.0,449.0 L1177.0,453.0 L1192.0,456.5 L1248.7,448.0 L1276.2,440.0 L1317.4,429.0 L1368.0,420.6 L1368.0,470.0 L1075.0,470.0 Z" fill="#050505" />
<circle cx="1296" cy="464" r="0.8" fill="#888"/>
<circle cx="1212" cy="464" r="0.8" fill="#666"/>
<circle cx="1205" cy="451" r="0.8" fill="#ccc"/>
<circle cx="1128" cy="464" r="1.3" fill="#ccc"/>
<circle cx="1167" cy="462" r="0.8" fill="#666"/>
<circle cx="1270" cy="458" r="1" fill="#ccc"/>
<circle cx="1107" cy="447" r="1.3" fill="#666"/>
<circle cx="1316" cy="456" r="0.8" fill="#888"/>
<circle cx="1173" cy="466" r="1.3" fill="#888"/>
<circle cx="1282" cy="456" r="1.3" fill="#ccc"/>
<circle cx="1165" cy="448" r="1" fill="#ccc"/>
<circle cx="1189" cy="448" r="1.3" fill="#666"/>
<circle cx="1246" cy="466" r="1.3" fill="#ccc"/>
<circle cx="1209" cy="463" r="1" fill="#666"/>
<circle cx="1175" cy="454" r="1.3" fill="#aaa"/>
<circle cx="1109" cy="464" r="0.8" fill="#ccc"/>
<circle cx="1277" cy="458" r="0.8" fill="#ccc"/>
<circle cx="1311" cy="457" r="1.3" fill="#aaa"/>
<circle cx="1135" cy="462" r="1" fill="#888"/>
<circle cx="1148" cy="446" r="0.8" fill="#ccc"/>
<circle cx="1358" cy="460" r="1" fill="#888"/>
<circle cx="1250" cy="452" r="1.3" fill="#888"/>
<circle cx="1180" cy="451" r="0.8" fill="#ccc"/>
<circle cx="1109" cy="460" r="0.8" fill="#888"/>
<circle cx="1296" cy="460" r="0.8" fill="#aaa"/>
<circle cx="1223" cy="466" r="1" fill="#666"/>
<circle cx="1197" cy="453" r="1" fill="#aaa"/>
<circle cx="1225" cy="457" r="1.3" fill="#888"/>
<circle cx="1285" cy="466" r="1" fill="#ccc"/>
<circle cx="1327" cy="464" r="0.8" fill="#666"/>
<circle cx="1356" cy="460" r="1.3" fill="#ccc"/>
<circle cx="1286" cy="463" r="1" fill="#666"/>
<circle cx="1344" cy="451" r="0.8" fill="#666"/>
<circle cx="1279" cy="452" r="1" fill="#666"/>
<circle cx="1235" cy="451" r="0.8" fill="#666"/>
<circle cx="1172" cy="448" r="1.3" fill="#aaa"/>
<circle cx="1305" cy="449" r="0.8" fill="#666"/>
<circle cx="1090" cy="456" r="0.8" fill="#ccc"/>
<circle cx="1116" cy="449" r="0.8" fill="#aaa"/>
<circle cx="1255" cy="456" r="1.3" fill="#aaa"/>
<circle cx="1210" cy="466" r="1" fill="#aaa"/>
<circle cx="1343" cy="467" r="1.3" fill="#666"/>
<circle cx="1327" cy="456" r="1" fill="#ccc"/>
<circle cx="1272" cy="463" r="0.8" fill="#666"/>
<circle cx="1329" cy="454" r="0.8" fill="#aaa"/>
<circle cx="1312" cy="454" r="1.3" fill="#ccc"/>
<circle cx="1308" cy="446" r="0.8" fill="#888"/>
<circle cx="1332" cy="466" r="1" fill="#aaa"/>
<circle cx="1287" cy="459" r="0.8" fill="#666"/>
<circle cx="1129" cy="452" r="1" fill="#aaa"/>
<circle cx="1265" cy="468" r="1" fill="#888"/>
<circle cx="1128" cy="463" r="0.8" fill="#aaa"/>
<circle cx="1317" cy="464" r="0.8" fill="#888"/>
<circle cx="1185" cy="459" r="1.3" fill="#888"/>
<circle cx="1337" cy="461" r="0.8" fill="#ccc"/>
<circle cx="1090" cy="449" r="0.8" fill="#888"/>
<circle cx="1306" cy="455" r="0.8" fill="#666"/>
<circle cx="1234" cy="449" r="1" fill="#ccc"/>
<circle cx="1173" cy="447" r="1" fill="#666"/>
<circle cx="1274" cy="447" r="0.8" fill="#aaa"/>
<path d="M1316,467 L1368,448" fill="none" stroke="#ddd" stroke-width="2.5" stroke-linecap="round" stroke-linejoin="round"/>
<g clip-path="url(#clipRG)">
<rect x="1080" y="475.5" width="110" height="4" fill="#eee"/>
<path d="M1217,482.6 l51,0.6" stroke="#aaa" stroke-width="2.3" stroke-linecap="round"/>
<path d="M1278,483.8 l45,0.6" stroke="#dcdcdc" stroke-width="2.4" stroke-linecap="round"/>
<path d="M1044,486.6 l24,0.7" stroke="#dcdcdc" stroke-width="2.4" stroke-linecap="round"/>
<path d="M1076,488.6 l43,0.8" stroke="#777" stroke-width="1.5" stroke-linecap="round"/>
<path d="M1244,487.2 l30,0.7" stroke="#777" stroke-width="1.6" stroke-linecap="round"/>
<path d="M1276,486.9 l55,1.2" stroke="#777" stroke-width="1.7" stroke-linecap="round"/>
<path d="M1051,492.9 l55,0.9" stroke="#dcdcdc" stroke-width="2.5" stroke-linecap="round"/>
<path d="M1339,492.0 l29,0.7" stroke="#dcdcdc" stroke-width="2.3" stroke-linecap="round"/>
<path d="M1216,494.9 l30,0.8" stroke="#777" stroke-width="2.1" stroke-linecap="round"/>
<path d="M1255,495.4 l23,0.4" stroke="#f4f4f4" stroke-width="2.5" stroke-linecap="round"/>
<path d="M1058,500.9 l23,0.5" stroke="#909090" stroke-width="2.7" stroke-linecap="round"/>
<path d="M1086,500.1 l21,0.5" stroke="#909090" stroke-width="2.6" stroke-linecap="round"/>
<path d="M1316,500.0 l41,0.6" stroke="#909090" stroke-width="2.4" stroke-linecap="round"/>
<path d="M1060,505.6 l57,1.7" stroke="#dcdcdc" stroke-width="2.6" stroke-linecap="round"/>
<path d="M1149,504.6 l39,1.1" stroke="#dcdcdc" stroke-width="1.6" stroke-linecap="round"/>
<path d="M1280,505.5 l57,1.4" stroke="#909090" stroke-width="2.5" stroke-linecap="round"/>
<path d="M1341,505.8 l24,0.3" stroke="#777" stroke-width="1.6" stroke-linecap="round"/>
<path d="M1068,509.8 l59,1.0" stroke="#909090" stroke-width="1.4" stroke-linecap="round"/>
<path d="M1150,509.6 l43,0.7" stroke="#c4c4c4" stroke-width="1.3" stroke-linecap="round"/>
<path d="M1254,509.4 l41,0.5" stroke="#909090" stroke-width="1.8" stroke-linecap="round"/>
<path d="M1306,510.2 l42,0.9" stroke="#aaa" stroke-width="1.6" stroke-linecap="round"/>
<path d="M1155,514.7 l34,0.8" stroke="#dcdcdc" stroke-width="2.2" stroke-linecap="round"/>
<path d="M1199,516.2 l55,1.1" stroke="#909090" stroke-width="1.8" stroke-linecap="round"/>
<path d="M1311,516.2 l30,0.5" stroke="#f4f4f4" stroke-width="2.4" stroke-linecap="round"/>
<path d="M1344,514.1 l24,0.7" stroke="#aaa" stroke-width="2.2" stroke-linecap="round"/>
<path d="M1093,520.8 l45,1.3" stroke="#777" stroke-width="2.8" stroke-linecap="round"/>
<path d="M1140,519.0 l24,0.5" stroke="#777" stroke-width="2.0" stroke-linecap="round"/>
<path d="M1219,518.5 l20,0.5" stroke="#aaa" stroke-width="2.5" stroke-linecap="round"/>
<path d="M1048,523.2 l59,1.5" stroke="#f4f4f4" stroke-width="2.0" stroke-linecap="round"/>
<path d="M1129,524.6 l48,1.0" stroke="#c4c4c4" stroke-width="1.7" stroke-linecap="round"/>
<path d="M1192,523.4 l34,0.8" stroke="#909090" stroke-width="2.4" stroke-linecap="round"/>
<path d="M1232,524.5 l23,0.3" stroke="#f4f4f4" stroke-width="2.0" stroke-linecap="round"/>
<path d="M1261,525.1 l40,1.2" stroke="#f4f4f4" stroke-width="1.8" stroke-linecap="round"/>
<path d="M1319,525.0 l25,0.5" stroke="#aaa" stroke-width="1.7" stroke-linecap="round"/>
<path d="M1347,525.4 l46,0.7" stroke="#f4f4f4" stroke-width="2.6" stroke-linecap="round"/>
<path d="M1058,530.0 l47,0.9" stroke="#f4f4f4" stroke-width="2.0" stroke-linecap="round"/>
<path d="M1132,529.9 l36,0.9" stroke="#777" stroke-width="2.0" stroke-linecap="round"/>
<path d="M1248,528.6 l22,0.3" stroke="#c4c4c4" stroke-width="2.4" stroke-linecap="round"/>
<path d="M1275,529.2 l52,1.1" stroke="#777" stroke-width="1.5" stroke-linecap="round"/>
<path d="M1331,530.8 l58,1.1" stroke="#aaa" stroke-width="1.9" stroke-linecap="round"/>
<path d="M1069,534.8 l53,1.4" stroke="#dcdcdc" stroke-width="3.2" stroke-linecap="round"/>
<path d="M1214,535.9 l58,1.0" stroke="#909090" stroke-width="2.8" stroke-linecap="round"/>
<path d="M1298,536.1 l36,0.7" stroke="#777" stroke-width="2.3" stroke-linecap="round"/>
<path d="M1069,539.7 l30,0.5" stroke="#aaa" stroke-width="2.8" stroke-linecap="round"/>
<path d="M1182,539.8 l41,0.7" stroke="#777" stroke-width="1.9" stroke-linecap="round"/>
<path d="M1246,540.9 l27,0.6" stroke="#c4c4c4" stroke-width="3.1" stroke-linecap="round"/>
<path d="M1275,538.9 l61,0.6" stroke="#c4c4c4" stroke-width="2.1" stroke-linecap="round"/>
<path d="M1355,540.1 l59,0.9" stroke="#777" stroke-width="2.2" stroke-linecap="round"/>
<path d="M1204,546.1 l29,0.4" stroke="#f4f4f4" stroke-width="3.0" stroke-linecap="round"/>
<path d="M1137,550.6 l26,0.6" stroke="#aaa" stroke-width="1.8" stroke-linecap="round"/>
<path d="M1221,549.3 l60,1.8" stroke="#777" stroke-width="1.7" stroke-linecap="round"/>
<path d="M1290,552.0 l45,1.2" stroke="#909090" stroke-width="2.1" stroke-linecap="round"/>
<path d="M1340,549.9 l67,0.7" stroke="#f4f4f4" stroke-width="3.3" stroke-linecap="round"/>
<path d="M1110,557.9 l65,1.4" stroke="#aaa" stroke-width="3.4" stroke-linecap="round"/>
<path d="M1236,555.6 l41,0.5" stroke="#909090" stroke-width="1.8" stroke-linecap="round"/>
<path d="M1289,555.6 l49,1.2" stroke="#f4f4f4" stroke-width="2.6" stroke-linecap="round"/>
<path d="M1059,563.1 l59,1.3" stroke="#c4c4c4" stroke-width="3.0" stroke-linecap="round"/>
<path d="M1300,561.8 l61,0.8" stroke="#dcdcdc" stroke-width="2.4" stroke-linecap="round"/>
<path d="M1165,568.2 l44,0.5" stroke="#909090" stroke-width="1.8" stroke-linecap="round"/>
<path d="M1216,568.8 l40,0.5" stroke="#909090" stroke-width="3.5" stroke-linecap="round"/>
<path d="M1043,574.6 l46,0.6" stroke="#aaa" stroke-width="1.9" stroke-linecap="round"/>
<path d="M1103,573.8 l47,0.5" stroke="#dcdcdc" stroke-width="3.5" stroke-linecap="round"/>
<path d="M1211,575.0 l66,1.1" stroke="#dcdcdc" stroke-width="2.2" stroke-linecap="round"/>
<path d="M1107,580.4 l48,0.5" stroke="#dcdcdc" stroke-width="3.6" stroke-linecap="round"/>
<path d="M1329,580.8 l63,1.4" stroke="#f4f4f4" stroke-width="2.1" stroke-linecap="round"/>
<path d="M1289,585.9 l52,1.1" stroke="#dcdcdc" stroke-width="3.7" stroke-linecap="round"/>
<path d="M1364,587.2 l51,1.1" stroke="#f4f4f4" stroke-width="2.0" stroke-linecap="round"/>
<path d="M1127,534 Q1150,530 1175,534 Q1150,541 1127,539 Z" fill="#ececec"/>
<path d="M1085,545 L1180,575" fill="none" stroke="#d8d8d8" stroke-width="2.4" stroke-linecap="round" stroke-linejoin="round"/>
<path d="M1095,560 L1170,590" fill="none" stroke="#d8d8d8" stroke-width="2.4" stroke-linecap="round" stroke-linejoin="round"/>
<path d="M1217.7,611 L1333,654 L1271,656" fill="none" stroke="#d8d8d8" stroke-width="2.4" stroke-linecap="round" stroke-linejoin="round"/>
<path d="M1217.7,649 L1361.5,710" fill="none" stroke="#d8d8d8" stroke-width="2.4" stroke-linecap="round" stroke-linejoin="round"/>
<path d="M1214,711 L1265,737" fill="none" stroke="#d8d8d8" stroke-width="2.4" stroke-linecap="round" stroke-linejoin="round"/>
<path d="M1218,628 L1262,628" fill="none" stroke="#d8d8d8" stroke-width="2.4" stroke-linecap="round" stroke-linejoin="round"/>
<path d="M1283,715.4 L1333,715.4" fill="none" stroke="#d8d8d8" stroke-width="2.4" stroke-linecap="round" stroke-linejoin="round"/>
<path d="M1330,592 L1368,600" fill="none" stroke="#d8d8d8" stroke-width="2.4" stroke-linecap="round" stroke-linejoin="round"/>
<path d="M1320,610 L1368,622" fill="none" stroke="#d8d8d8" stroke-width="2.4" stroke-linecap="round" stroke-linejoin="round"/>
<path d="M1345,640 L1368,652" fill="none" stroke="#d8d8d8" stroke-width="2.4" stroke-linecap="round" stroke-linejoin="round"/>
<path d="M1300,600 L1345,618" fill="none" stroke="#d8d8d8" stroke-width="2.4" stroke-linecap="round" stroke-linejoin="round"/>
<path d="M1297,607 L1338,610 L1340,618 L1302,616 Z" fill="#ddd"/>
<path d="M1286,645 l8,3" stroke="#555" stroke-width="2" stroke-linecap="round"/>
<path d="M1267,656 l14,1" stroke="#999" stroke-width="2" stroke-linecap="round"/>
<path d="M1322,687 l8,4" stroke="#999" stroke-width="2" stroke-linecap="round"/>
<path d="M1280,620 l7,1" stroke="#999" stroke-width="2" stroke-linecap="round"/>
<path d="M1225,683 l17,4" stroke="#777" stroke-width="2" stroke-linecap="round"/>
<path d="M1246,627 l17,4" stroke="#777" stroke-width="2" stroke-linecap="round"/>
<path d="M1354,648 l11,0" stroke="#999" stroke-width="2" stroke-linecap="round"/>
<path d="M1351,706 l7,2" stroke="#777" stroke-width="2" stroke-linecap="round"/>
<path d="M1236,628 l16,3" stroke="#999" stroke-width="2" stroke-linecap="round"/>
<path d="M1216,692 l9,3" stroke="#777" stroke-width="2" stroke-linecap="round"/>
<path d="M1216,610 l14,0" stroke="#555" stroke-width="2" stroke-linecap="round"/>
<path d="M1303,665 l9,0" stroke="#555" stroke-width="2" stroke-linecap="round"/>
<path d="M1313,611 l14,1" stroke="#999" stroke-width="2" stroke-linecap="round"/>
<path d="M1325,605 l10,3" stroke="#555" stroke-width="2" stroke-linecap="round"/>
<path d="M1329,688 l14,0" stroke="#999" stroke-width="2" stroke-linecap="round"/>
<path d="M1277,709 l8,2" stroke="#999" stroke-width="2" stroke-linecap="round"/>
<path d="M1271,681 l14,3" stroke="#555" stroke-width="2" stroke-linecap="round"/>
<path d="M1348,613 l18,1" stroke="#555" stroke-width="2" stroke-linecap="round"/>
<path d="M1277,718 l14,0" stroke="#999" stroke-width="2" stroke-linecap="round"/>
<path d="M1265,652 l9,2" stroke="#777" stroke-width="2" stroke-linecap="round"/>
<path d="M1340,637 l10,2" stroke="#555" stroke-width="2" stroke-linecap="round"/>
<path d="M1219,694 l17,2" stroke="#999" stroke-width="2" stroke-linecap="round"/>
<path d="M1214,711 L1265,737" fill="none" stroke="#ddd" stroke-width="2.5" stroke-linecap="round" stroke-linejoin="round"/><path d="M1285,736 L1365,735" fill="none" stroke="#aaa" stroke-width="2" stroke-linecap="round" stroke-linejoin="round"/><path d="M1213,755 L1290,756" fill="none" stroke="#999" stroke-width="2" stroke-linecap="round" stroke-linejoin="round"/><path d="M1282,751 L1318,768" fill="none" stroke="#aaa" stroke-width="2" stroke-linecap="round" stroke-linejoin="round"/>
</g>
<rect x="372" y="700" width="8" height="1.5" fill="#777"/>
<rect x="1044" y="749" width="8" height="1.5" fill="#444"/>
<rect x="964" y="735" width="8" height="1.5" fill="#444"/>
<rect x="519" y="668" width="2" height="1.5" fill="#777"/>
<rect x="451" y="725" width="5" height="1.5" fill="#777"/>
<rect x="583" y="716" width="5" height="1.5" fill="#555"/>
<rect x="879" y="718" width="2" height="1.5" fill="#555"/>
<rect x="437" y="698" width="2" height="1.5" fill="#555"/>
<rect x="532" y="686" width="8" height="1.5" fill="#777"/>
<rect x="789" y="705" width="8" height="1.5" fill="#444"/>
<rect x="369" y="725" width="3" height="1.5" fill="#777"/>
<rect x="782" y="675" width="3" height="1.5" fill="#555"/>
<rect x="318" y="707" width="2" height="1.5" fill="#444"/>
<rect x="467" y="673" width="2" height="1.5" fill="#555"/>
<rect x="607" y="663" width="8" height="1.5" fill="#777"/>
<rect x="398" y="678" width="3" height="1.5" fill="#777"/>
<rect x="591" y="692" width="8" height="1.5" fill="#777"/>
<rect x="302" y="700" width="5" height="1.5" fill="#444"/>
<rect x="805" y="724" width="2" height="1.5" fill="#555"/>
<rect x="548" y="694" width="8" height="1.5" fill="#444"/>
<rect x="725" y="678" width="5" height="1.5" fill="#555"/>
<rect x="934" y="724" width="3" height="1.5" fill="#555"/>
<rect x="888" y="757" width="3" height="1.5" fill="#555"/>
<rect x="767" y="713" width="3" height="1.5" fill="#777"/>
<rect x="1069" y="735" width="3" height="1.5" fill="#777"/>
<rect x="1027" y="726" width="3" height="1.5" fill="#444"/>
<rect x="396" y="709" width="8" height="1.5" fill="#777"/>
<rect x="550" y="665" width="5" height="1.5" fill="#555"/>
<rect x="651" y="669" width="3" height="1.5" fill="#444"/>
<rect x="995" y="716" width="2" height="1.5" fill="#777"/>
<rect x="1004" y="674" width="5" height="1.5" fill="#777"/>
<rect x="404" y="761" width="2" height="1.5" fill="#555"/>
<rect x="824" y="696" width="5" height="1.5" fill="#444"/>
<rect x="435" y="717" width="2" height="1.5" fill="#555"/>
<rect x="315" y="675" width="3" height="1.5" fill="#555"/>
<rect x="880" y="751" width="8" height="1.5" fill="#777"/>
<rect x="752" y="746" width="2" height="1.5" fill="#444"/>
<rect x="446" y="708" width="3" height="1.5" fill="#777"/>
<rect x="591" y="719" width="3" height="1.5" fill="#555"/>
<rect x="695" y="685" width="5" height="1.5" fill="#444"/>
<rect x="791" y="659" width="3" height="1.5" fill="#555"/>
<rect x="1038" y="723" width="8" height="1.5" fill="#555"/>
<rect x="611" y="725" width="8" height="1.5" fill="#555"/>
<rect x="669" y="767" width="8" height="1.5" fill="#555"/>
<rect x="382" y="668" width="5" height="1.5" fill="#777"/>
<rect x="696" y="702" width="2" height="1.5" fill="#555"/>
<rect x="998" y="688" width="8" height="1.5" fill="#777"/>
<rect x="584" y="691" width="5" height="1.5" fill="#777"/>
<rect x="974" y="683" width="8" height="1.5" fill="#444"/>
<rect x="682" y="700" width="2" height="1.5" fill="#555"/>
<rect x="832" y="714" width="3" height="1.5" fill="#777"/>
<rect x="529" y="700" width="3" height="1.5" fill="#444"/>
<rect x="1069" y="738" width="5" height="1.5" fill="#777"/>
<rect x="619" y="746" width="3" height="1.5" fill="#777"/>
<rect x="872" y="719" width="2" height="1.5" fill="#444"/>
<rect x="695" y="670" width="8" height="1.5" fill="#444"/>
<rect x="521" y="737" width="2" height="1.5" fill="#555"/>
<rect x="424" y="705" width="8" height="1.5" fill="#777"/>
<rect x="600" y="695" width="3" height="1.5" fill="#444"/>
<rect x="529" y="706" width="5" height="1.5" fill="#555"/>
<path d="M272,660.7 L422.7,660.7 L427,656" fill="none" stroke="#d4d4d4" stroke-width="2.2" stroke-linecap="round" stroke-linejoin="round"/>
<path d="M367.5,660.7 L395,642" fill="none" stroke="#d4d4d4" stroke-width="2.2" stroke-linecap="round" stroke-linejoin="round"/>
<path d="M395,651.5 L601,652" fill="none" stroke="#d4d4d4" stroke-width="2.2" stroke-linecap="round" stroke-linejoin="round"/>
<path d="M604,645 L579,753" fill="none" stroke="#d4d4d4" stroke-width="2.2" stroke-linecap="round" stroke-linejoin="round"/>
<path d="M624,697.5 L617.7,768" fill="none" stroke="#d4d4d4" stroke-width="2.2" stroke-linecap="round" stroke-linejoin="round"/>
<path d="M313.7,696 L530,697" fill="none" stroke="#d4d4d4" stroke-width="2.2" stroke-linecap="round" stroke-linejoin="round"/>
<path d="M622,699 L852,698" fill="none" stroke="#d4d4d4" stroke-width="2.2" stroke-linecap="round" stroke-linejoin="round"/>
<path d="M864,699 L1045,699" fill="none" stroke="#d4d4d4" stroke-width="2.2" stroke-linecap="round" stroke-linejoin="round"/>
<path d="M306,746.7 L800,747" fill="none" stroke="#d4d4d4" stroke-width="2.2" stroke-linecap="round" stroke-linejoin="round"/>
<path d="M260,737.5 L336.8,719 L287.6,765" fill="none" stroke="#d4d4d4" stroke-width="2.2" stroke-linecap="round" stroke-linejoin="round"/>
<path d="M628,733 L680,733" fill="none" stroke="#d4d4d4" stroke-width="2.2" stroke-linecap="round" stroke-linejoin="round"/>
<path d="M650,656 L650,690" fill="none" stroke="#d4d4d4" stroke-width="2.2" stroke-linecap="round" stroke-linejoin="round"/>
<path d="M619,699 L619,768" fill="none" stroke="#d4d4d4" stroke-width="2.2" stroke-linecap="round" stroke-linejoin="round"/>
<path d="M815,659 L884,659" fill="none" stroke="#d4d4d4" stroke-width="2.2" stroke-linecap="round" stroke-linejoin="round"/>
<path d="M700,667 L824,667" fill="none" stroke="#d4d4d4" stroke-width="2.2" stroke-linecap="round" stroke-linejoin="round"/>
<path d="M700,667 L717,768" fill="none" stroke="#d4d4d4" stroke-width="2.2" stroke-linecap="round" stroke-linejoin="round"/>
<path d="M858,685 L867,697.5" fill="none" stroke="#d4d4d4" stroke-width="2.2" stroke-linecap="round" stroke-linejoin="round"/>
<path d="M884,664 L907,687" fill="none" stroke="#d4d4d4" stroke-width="2.2" stroke-linecap="round" stroke-linejoin="round"/>
<path d="M981,676 L1039,676" fill="none" stroke="#d4d4d4" stroke-width="2.2" stroke-linecap="round" stroke-linejoin="round"/>
<path d="M1033,664 L1045,675" fill="none" stroke="#d4d4d4" stroke-width="2.2" stroke-linecap="round" stroke-linejoin="round"/>
<path d="M809,730 L876.5,730 L907,768" fill="none" stroke="#d4d4d4" stroke-width="2.2" stroke-linecap="round" stroke-linejoin="round"/>
<path d="M809,730 L833.5,768" fill="none" stroke="#d4d4d4" stroke-width="2.2" stroke-linecap="round" stroke-linejoin="round"/>
<path d="M800,746 L810,768" fill="none" stroke="#d4d4d4" stroke-width="2.2" stroke-linecap="round" stroke-linejoin="round"/>
<path d="M710.7,707 L712,768" fill="none" stroke="#d4d4d4" stroke-width="2.2" stroke-linecap="round" stroke-linejoin="round"/>
<path d="M1045,719 L1100,753" fill="none" stroke="#d4d4d4" stroke-width="2.2" stroke-linecap="round" stroke-linejoin="round"/>
<path d="M470,665 L520,665" fill="none" stroke="#d4d4d4" stroke-width="2.2" stroke-linecap="round" stroke-linejoin="round"/>
<path d="M440,720 L470,680" fill="none" stroke="#d4d4d4" stroke-width="2.2" stroke-linecap="round" stroke-linejoin="round"/>
<path d="M980,700 L1000,720" fill="none" stroke="#d4d4d4" stroke-width="2.2" stroke-linecap="round" stroke-linejoin="round"/>
<path d="M382,682.8 L495,684.7 Q502,685.5 499,691 L484,718 Q481,721.5 476,721.5 L360,719 Q353,718 356.5,712 L374,686 Q376,683 382,682.8 Z" fill="#d2d2d2" stroke="#f6f6f6" stroke-width="3"/>
<path d="M384,688.5 L490,690 L477,714 L368,712 Z" fill="#dadada" stroke="#999" stroke-width="1.2"/>
<path d="M548.6,699 L576.2,699 L564,741 L537.9,741 Z" fill="#d4d4d4" stroke="#f0f0f0" stroke-width="2"/>
<path d="M732.2,666.8 L822.8,667.5 L839.7,689 L736.8,689 Z" fill="#d8d8d8" stroke="#f4f4f4" stroke-width="3"/>
<path d="M737,671 L820,671.5 L832,686 L740,686 Z" fill="none" stroke="#999" stroke-width="1"/>
<path d="M885.7,657.6 L993,657 L1000.8,668.4 L891.8,666.2 Z" fill="#cfcfcf" stroke="#f2f2f2" stroke-width="2"/>
<path d="M987,708 L1020,710" fill="none" stroke="#ccc" stroke-width="2.6" stroke-linecap="round" stroke-linejoin="round"/><path d="M993,713 L1022,716" fill="none" stroke="#ccc" stroke-width="2.6" stroke-linecap="round" stroke-linejoin="round"/><path d="M998,719 L1024,722" fill="none" stroke="#bbb" stroke-width="2.6" stroke-linecap="round" stroke-linejoin="round"/><path d="M1005,725 L1020,726" fill="none" stroke="#aaa" stroke-width="2" stroke-linecap="round" stroke-linejoin="round"/>
<path d="M916,747.6 L1011.6,748" stroke="#ccc" stroke-width="2.5" stroke-dasharray="5 2"/>
<rect x="845" y="740" width="2" height="1.6" fill="#888"/>
<rect x="845" y="746" width="2" height="1.6" fill="#888"/>
<rect x="845" y="752" width="2" height="1.6" fill="#888"/>
<rect x="845" y="758" width="2" height="1.6" fill="#888"/>
<rect x="845" y="764" width="2" height="1.6" fill="#888"/>
<rect x="852" y="740" width="2" height="1.6" fill="#888"/>
<rect x="852" y="746" width="2" height="1.6" fill="#888"/>
<rect x="852" y="752" width="2" height="1.6" fill="#888"/>
<rect x="852" y="758" width="2" height="1.6" fill="#888"/>
<rect x="852" y="764" width="2" height="1.6" fill="#888"/>
<rect x="859" y="740" width="2" height="1.6" fill="#888"/>
<rect x="859" y="746" width="2" height="1.6" fill="#888"/>
<rect x="859" y="752" width="2" height="1.6" fill="#888"/>
<rect x="859" y="758" width="2" height="1.6" fill="#888"/>
<rect x="859" y="764" width="2" height="1.6" fill="#888"/>
<rect x="866" y="740" width="2" height="1.6" fill="#888"/>
<rect x="866" y="746" width="2" height="1.6" fill="#888"/>
<rect x="866" y="752" width="2" height="1.6" fill="#888"/>
<rect x="866" y="758" width="2" height="1.6" fill="#888"/>
<rect x="866" y="764" width="2" height="1.6" fill="#888"/>
<rect x="873" y="740" width="2" height="1.6" fill="#888"/>
<rect x="873" y="746" width="2" height="1.6" fill="#888"/>
<rect x="873" y="752" width="2" height="1.6" fill="#888"/>
<rect x="873" y="758" width="2" height="1.6" fill="#888"/>
<rect x="873" y="764" width="2" height="1.6" fill="#888"/>
<path d="M290,652 L300,640" fill="none" stroke="#999" stroke-width="2" stroke-linecap="round" stroke-linejoin="round"/><path d="M300,676 L330,676" fill="none" stroke="#888" stroke-width="2" stroke-linecap="round" stroke-linejoin="round"/>
<path d="M0,628 L80,628 L80,768 L0,768 Z" fill="#000"/>
<path d="M0,640 Q8,630 18,636 Q26,628 36,635 Q46,632 50,642 Q60,640 62,650 Q68,654 68,662 L68,680 Q60,672 52,683 Q44,676 36,681 Q30,670 22,678 Q14,668 8,682 Q4,676 0,680 Z" fill="#dcdcdc"/>
<path d="M0,706 Q14,700 26,706 Q40,700 52,712 Q64,716 68,730 Q80,738 82,768 L0,768 Z" fill="#c4c4c4"/>
<circle cx="21" cy="748" r="2.5" fill="#000"/>
<text x="1215.4" y="756.9" font-size="24" fill="#8a8a8a" stroke="#000" stroke-width="0.7" textLength="141" lengthAdjust="spacingAndGlyphs" font-family="Liberation Sans">AI Generated</text>
<path d="M292.1,94.5 C292.7,74.7 309.4,58.7 329.2,59.0 L1058.3,69.9 C1078.1,70.2 1093.8,86.6 1093.2,106.4 L1077.5,617.8 C1076.9,637.6 1060.2,653.4 1040.4,652.8 L310.9,633.4 C291.1,632.8 275.4,616.2 276.0,596.4 Z" fill="#fff" stroke="#000" stroke-width="5"/>
<text x="331" y="120.5" font-size="41" font-weight="700" fill="#050505" textLength="548" lengthAdjust="spacingAndGlyphs" transform="rotate(0.62 331 120.5)" stroke="#050505" stroke-width="1.5">Stablecoint market cap growth</text>
<circle cx="343.9" cy="160.1" r="15.2" fill="#050505"/>
<text x="343.9" y="167.5" font-size="21" font-weight="700" fill="#fff" text-anchor="middle">$</text>
<text x="367.3" y="174.1" font-size="37" font-weight="400" fill="#050505" textLength="80" lengthAdjust="spacingAndGlyphs" transform="rotate(0.7 367.3 174.1)" stroke="#050505" stroke-width="0.7">MiCA</text>
<circle cx="466.9" cy="163.6" r="4" fill="#777"/>
<text x="488.5" y="178" font-size="37" font-weight="400" fill="#8a8a8a" textLength="195" lengthAdjust="spacingAndGlyphs" transform="rotate(0.8 488.5 178)" >Grvillius Act</text>
<circle cx="342.9" cy="209.5" r="14" fill="#f5a21e"/>
<g transform="translate(343.5 209.5) rotate(12) scale(0.3)" fill="#fff"><rect x="-13" y="-31" width="5" height="10"/><rect x="-2" y="-31" width="5" height="10"/><rect x="-13" y="21" width="5" height="10"/><rect x="-2" y="21" width="5" height="10"/><rect x="-26" y="-22" width="8" height="5.5"/><rect x="-26" y="16.5" width="8" height="5.5"/><text x="-23.4" y="22" font-size="63" font-weight="700" font-family="Liberation Sans" stroke="#fff" stroke-width="1.6">B</text></g>
<text x="370.6" y="219" font-size="21.8" font-weight="400" fill="#050505" textLength="48.8" lengthAdjust="spacingAndGlyphs" transform="rotate(1.0 370.6 219)" >MiCA</text>
<circle cx="458.2" cy="212.5" r="13.5" fill="#3a3a3a"/>
<text x="458.2" y="219.2" font-size="18" font-weight="700" fill="#fff" text-anchor="middle">$</text>
<text x="481.4" y="222" font-size="20.5" font-weight="400" fill="#050505" textLength="107" lengthAdjust="spacingAndGlyphs" transform="rotate(1.0 481.4 222)" >GENIUS Act</text>
<line x1="352" y1="263" x2="976" y2="269.9" stroke="#e9e9e9" stroke-width="2.5"/>
<line x1="352" y1="324" x2="966" y2="330.8" stroke="#e9e9e9" stroke-width="2.5"/>
<line x1="352" y1="386" x2="966" y2="392.8" stroke="#e9e9e9" stroke-width="2.5"/>
<line x1="352" y1="447" x2="966" y2="453.8" stroke="#e9e9e9" stroke-width="2.5"/>
<line x1="352" y1="507" x2="966" y2="513.8" stroke="#e9e9e9" stroke-width="2.5"/>
<path d="M342,250 Q349.5,252 349,260 L339.4,574" fill="none" stroke="#050505" stroke-width="4" stroke-linecap="round"/>
<path d="M353.4,566.3 L411.3,538.8 L428.8,549.6 L464.5,525.4 L490.8,544.4 L552.2,509.3 L587.9,538 L671.5,470.1 L712.5,501.4 L808.2,397.2 L845.3,445.6 L978,261 L968.8,582 Z" fill="url(#area)" stroke="#050505" stroke-width="5" stroke-linejoin="round"/>
<line x1="886" y1="317.5" x2="930" y2="256" stroke="#050505" stroke-width="12" stroke-linecap="round"/>
<path d="M951,234 L908.7,250 L944.5,274.6 Z" fill="#050505" stroke="#050505" stroke-width="6" stroke-linejoin="round"/>
<text x="375.4" y="512.3" font-size="41" font-weight="700" fill="#050505" textLength="73" lengthAdjust="spacingAndGlyphs" transform="rotate(1.0 375.4 512.3)" stroke="#050505" stroke-width="0.9">$00</text>
<text x="515.3" y="483" font-size="41.5" font-weight="700" fill="#050505" textLength="76" lengthAdjust="spacingAndGlyphs" transform="rotate(1.0 515.3 483)" stroke="#050505" stroke-width="0.9">$64</text>
<text x="637.4" y="441" font-size="42" font-weight="700" fill="#050505" textLength="74.6" lengthAdjust="spacingAndGlyphs" transform="rotate(1.0 637.4 441)" stroke="#050505" stroke-width="0.9">$62</text>
<text x="770.2" y="373.4" font-size="42.5" font-weight="700" fill="#050505" textLength="78" lengthAdjust="spacingAndGlyphs" transform="rotate(1.0 770.2 373.4)" stroke="#050505" stroke-width="0.9">$66</text>
<text x="908.7" y="211.6" font-size="42" font-weight="700" fill="#050505" textLength="99" lengthAdjust="spacingAndGlyphs" transform="rotate(1.0 908.7 211.6)" stroke="#050505" stroke-width="0.9">$228</text>
<text x="361.6" y="602.9" font-size="23.5" font-weight="700" fill="#050505" textLength="53.8" lengthAdjust="spacingAndGlyphs" transform="rotate(1.2 361.6 602.9)" stroke="#050505" stroke-width="0.5">2020</text>
<text x="497" y="605" font-size="23.5" font-weight="700" fill="#050505" textLength="52.3" lengthAdjust="spacingAndGlyphs" transform="rotate(1.2 497 605)" stroke="#050505" stroke-width="0.5">2024</text>
<text x="629.7" y="609" font-size="23.5" font-weight="700" fill="#050505" textLength="54.1" lengthAdjust="spacingAndGlyphs" transform="rotate(1.2 629.7 609)" stroke="#050505" stroke-width="0.5">2024</text>
<text x="767" y="611" font-size="23.5" font-weight="700" fill="#050505" textLength="52" lengthAdjust="spacingAndGlyphs" transform="rotate(1.2 767 611)" stroke="#050505" stroke-width="0.5">ETFs</text>
<text x="901" y="615" font-size="23.5" font-weight="700" fill="#050505" textLength="53.7" lengthAdjust="spacingAndGlyphs" transform="rotate(1.2 901 615)" stroke="#050505" stroke-width="0.5">2028</text>
<text x="1010.4" y="271" font-size="19" font-weight="400" fill="#a3a3a3" textLength="48.6" lengthAdjust="spacingAndGlyphs" transform="rotate(0.8 1010.4 271)" >5022</text>
<text x="1008" y="335" font-size="19" font-weight="400" fill="#a3a3a3" textLength="49" lengthAdjust="spacingAndGlyphs" transform="rotate(0.8 1008 335)" >2033</text>
<text x="1006.4" y="399" font-size="19" font-weight="400" fill="#a3a3a3" textLength="48.6" lengthAdjust="spacingAndGlyphs" transform="rotate(0.8 1006.4 399)" >2021</text>
<text x="1005.5" y="462" font-size="19" font-weight="400" fill="#a3a3a3" textLength="44.3" lengthAdjust="spacingAndGlyphs" transform="rotate(0.8 1005.5 462)" >1 21</text>
<text x="1003.5" y="524" font-size="19" font-weight="400" fill="#a3a3a3" textLength="48.5" lengthAdjust="spacingAndGlyphs" transform="rotate(0.8 1003.5 524)" >5023</text>
<text x="1017.8" y="590.7" font-size="19" font-weight="400" fill="#a3a3a3" textLength="20" lengthAdjust="spacingAndGlyphs" transform="rotate(0.8 1017.8 590.7)" >51</text>
<rect x="79.5" y="117.0" width="140" height="138" rx="26" transform="rotate(4.8 149.5 186)" fill="url(#btcside)" stroke="#000" stroke-width="3" />
<rect x="93.5" y="109.0" width="140" height="138" rx="26" transform="rotate(4.8 163.5 178)" fill="#fff" stroke="#000" stroke-width="4.5" />
<circle cx="162.6" cy="177" r="47" fill="#f6a623" stroke="#000" stroke-width="3.5"/>
<g transform="translate(166.5 176) rotate(12) scale(1.0)" fill="#fff"><rect x="-13" y="-31" width="5" height="10"/><rect x="-2" y="-31" width="5" height="10"/><rect x="-13" y="21" width="5" height="10"/><rect x="-2" y="21" width="5" height="10"/><rect x="-26" y="-22" width="8" height="5.5"/><rect x="-26" y="16.5" width="8" height="5.5"/><text x="-23.4" y="22" font-size="63" font-weight="700" font-family="Liberation Sans" stroke="#fff" stroke-width="1.6">B</text></g>
<rect x="1158.5" y="42.3" width="120" height="119" rx="25" transform="rotate(2.3 1218.5 101.8)" fill="#3a3a3a" stroke="#000" stroke-width="2" />
<rect x="1166.5" y="39.3" width="120" height="119" rx="25" transform="rotate(2.3 1226.5 98.8)" fill="#fff" stroke="#000" stroke-width="2" />
<g transform="translate(1226.5 99.5) rotate(2.5) scale(1.0)" stroke="#000" stroke-width="5" stroke-linejoin="round" stroke-linecap="round"><path d="M-34,-18 L0,-37 L34,-18 Z" fill="#fff"/><rect x="-37" y="-19" width="74" height="11" rx="4" fill="#b0b0b0"/><rect x="-27.6" y="-8" width="5.2" height="30" fill="#000" stroke="none"/><rect x="-14.9" y="-8" width="5.2" height="30" fill="#000" stroke="none"/><rect x="7.5" y="-8" width="5.2" height="30" fill="#000" stroke="none"/><rect x="20.599999999999998" y="-8" width="5.2" height="30" fill="#000" stroke="none"/><rect x="-37.0" y="22" width="74" height="11" rx="5" fill="#fff"/></g>
<rect x="1178.5" y="455.0" width="151" height="152" rx="32" transform="rotate(4.5 1254 531)" fill="#fff" stroke="#000" stroke-width="6" />
<g transform="translate(1256 532) rotate(8) scale(1.22)" stroke="#000" stroke-width="5" stroke-linejoin="round" stroke-linecap="round"><path d="M-34,-14 L0,-39 L34,-14 Z" fill="#fff"/><rect x="-37" y="-15" width="74" height="7" rx="4" fill="#fff"/><rect x="-27" y="-8" width="6" height="30" fill="#a8a8a8" stroke-width="4"/><rect x="-13" y="-8" width="4" height="30" fill="#000" stroke-width="2"/><rect x="9" y="-8" width="4" height="30" fill="#000" stroke-width="2"/><rect x="21" y="-8" width="6" height="30" fill="#a8a8a8" stroke-width="4"/><rect x="-40.0" y="22" width="80" height="13" rx="5" fill="#9a9a9a"/></g>
<rect x="1049.9" y="577.3" width="166" height="162" rx="36" transform="rotate(1.0 1132.9 658.3)" fill="#fff" stroke="#000" stroke-width="6" />
<g transform="rotate(1 1132 658)"><rect x="1080" y="611" width="103.5" height="95.7" rx="11" fill="#5f5f5f" stroke="#000" stroke-width="4.5"/><rect x="1091.3" y="622.4" width="80.8" height="63.8" rx="3" fill="#f4f4f4"/><path d="M1083,686 L1124.3,688.5 L1149.4,668.5 L1167.6,683.9 L1181.5,688 L1181.5,704 L1083,704 Z" fill="#6a6a6a" stroke="#000" stroke-width="3.5" stroke-linejoin="round"/><g stroke="#555" stroke-width="4.5" stroke-linecap="round" fill="none"><path d="M1131,635.6 L1163,635.6 M1131,648.6 L1163,648.6 M1101.5,661 L1160.8,661 L1160.8,671 M1100,674.4 L1131,674.4"/><path d="M1111.5,629 L1111.5,653"/><ellipse cx="1111.5" cy="641.5" rx="8" ry="5"/></g></g>
<path d="M66.7,627.8 C64.8,609.2 78.5,592.3 97.1,590.1 L193.8,579.1 C212.4,576.9 229.1,590.4 231.0,609.0 L243.1,730.0 C245.0,748.6 231.3,765.9 212.8,768.4 L116.3,781.4 C97.8,783.9 81.1,770.8 79.2,752.2 Z" fill="url(#bankside)" stroke="#000" stroke-width="4"/>
<path d="M96.7,603.8 C94.8,585.2 108.5,568.3 127.1,566.1 L223.8,555.1 C242.4,552.9 259.1,566.4 261.0,585.0 L273.1,706.0 C275.0,724.6 261.3,741.9 242.8,744.4 L146.3,757.4 C127.8,759.9 111.1,746.8 109.2,728.2 Z" fill="#fff" stroke="#000" stroke-width="5"/>
<g stroke="#000" stroke-width="5" stroke-linejoin="round" stroke-linecap="round"><path d="M150,720 L225,705 L232,685 L148,700 Z" fill="#dcdcdc" stroke="none"/><path d="M135.5,651 L170.3,610.3 L187.7,603 L234.2,623.4 L237,641 L138.4,666 Z" fill="#555"/><path d="M186,609 L188.5,631 L228,622 Z" fill="#fff" stroke-width="3"/><path d="M147,668 L151,716 L146,719" fill="none"/><path d="M170,663 L175,711 L183,710 L178,661" fill="#fff"/><path d="M193,656 L198,703 L209,701 L205,654" fill="#555" stroke-width="4"/><path d="M207,653 L212,700 L219,699 L214,651" fill="#fff" stroke-width="4"/><path d="M227,646 L232,690 L242,688 L237,643" fill="#d0d0d0"/></g>
</svg>
</body></html>
